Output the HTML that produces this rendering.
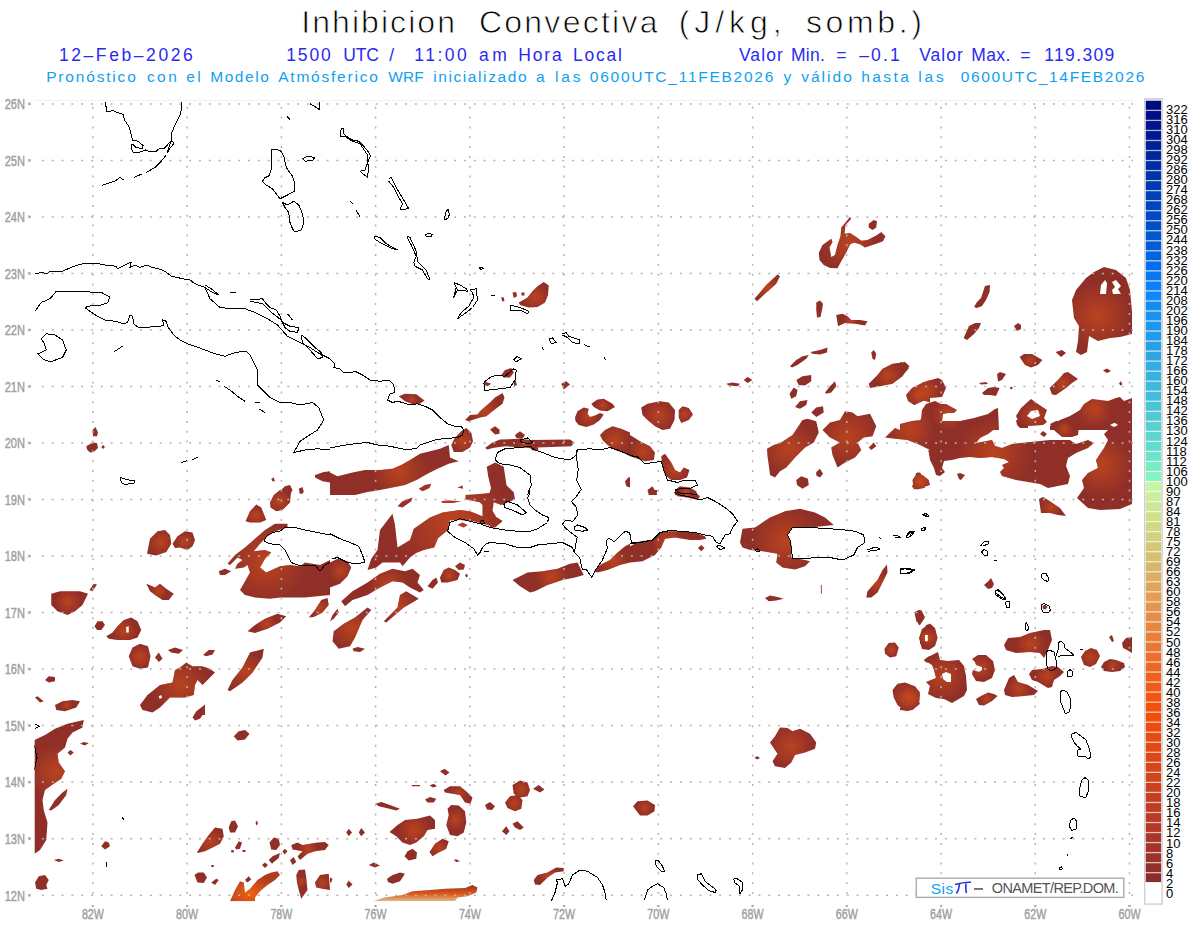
<!DOCTYPE html><html><head><meta charset="utf-8"><style>html,body{margin:0;padding:0;background:#fff;overflow:hidden}svg{display:block}</style></head><body><svg width="1200" height="927" viewBox="0 0 1200 927">
<rect width="1200" height="927" fill="#fff"/>
<g font-family="Liberation Sans, sans-serif">
<text x="301.2" y="32.9" font-size="32" textLength="153.8" lengthAdjust="spacing" fill="#000" stroke="#fff" stroke-width="0.8">Inhibicion</text>
<text x="478.9" y="32.9" font-size="32" textLength="178.6" lengthAdjust="spacing" fill="#000" stroke="#fff" stroke-width="0.8">Convectiva</text>
<text x="678.8" y="32.9" font-size="32" textLength="102.8" lengthAdjust="spacing" fill="#000" stroke="#fff" stroke-width="0.8">(J/kg,</text>
<text x="805.9" y="32.9" font-size="32" textLength="115.9" lengthAdjust="spacing" fill="#000" stroke="#fff" stroke-width="0.8">somb.)</text>
<text x="58.9" y="61" font-size="17.5" textLength="133.9" lengthAdjust="spacing" fill="#2a2af0" >12–Feb–2026</text>
<text x="286.2" y="61" font-size="17.5" textLength="44.6" lengthAdjust="spacing" fill="#2a2af0" >1500</text>
<text x="343.2" y="61" font-size="17.5" textLength="35.6" lengthAdjust="spacing" fill="#2a2af0" >UTC</text>
<text x="389.2" y="61" font-size="17.5" textLength="15.6" lengthAdjust="spacing" fill="#2a2af0" >/</text>
<text x="414.2" y="61" font-size="17.5" textLength="52.6" lengthAdjust="spacing" fill="#2a2af0" >11:00</text>
<text x="478.9" y="61" font-size="17.5" textLength="27.9" lengthAdjust="spacing" fill="#2a2af0" >am</text>
<text x="518.2" y="61" font-size="17.5" textLength="43.6" lengthAdjust="spacing" fill="#2a2af0" >Hora</text>
<text x="572.9" y="61" font-size="17.5" textLength="48.9" lengthAdjust="spacing" fill="#2a2af0" >Local</text>
<text x="738.9" y="61" font-size="17.5" textLength="43.9" lengthAdjust="spacing" fill="#2a2af0" >Valor</text>
<text x="790.9" y="61" font-size="17.5" textLength="33.9" lengthAdjust="spacing" fill="#2a2af0" >Min.</text>
<text x="836.2" y="61" font-size="17.5" textLength="13.2" lengthAdjust="spacing" fill="#2a2af0" >=</text>
<text x="859.2" y="61" font-size="17.5" textLength="40.6" lengthAdjust="spacing" fill="#2a2af0" >–0.1</text>
<text x="919.2" y="61" font-size="17.5" textLength="43.6" lengthAdjust="spacing" fill="#2a2af0" >Valor</text>
<text x="971.2" y="61" font-size="17.5" textLength="39.1" lengthAdjust="spacing" fill="#2a2af0" >Max.</text>
<text x="1020.2" y="61" font-size="17.5" textLength="14.6" lengthAdjust="spacing" fill="#2a2af0" >=</text>
<text x="1044.2" y="61" font-size="17.5" textLength="70.1" lengthAdjust="spacing" fill="#2a2af0" >119.309</text>
<text x="46.2" y="82" font-size="15.5" textLength="89.6" lengthAdjust="spacing" fill="#10a0f0" >Pronóstico</text>
<text x="146.9" y="82" font-size="15.5" textLength="29.9" lengthAdjust="spacing" fill="#10a0f0" >con</text>
<text x="186.2" y="82" font-size="15.5" textLength="14.6" lengthAdjust="spacing" fill="#10a0f0" >el</text>
<text x="210.2" y="82" font-size="15.5" textLength="58.6" lengthAdjust="spacing" fill="#10a0f0" >Modelo</text>
<text x="278.2" y="82" font-size="15.5" textLength="99.6" lengthAdjust="spacing" fill="#10a0f0" >Atmósferico</text>
<text x="388.2" y="82" font-size="15.5" textLength="35.4" lengthAdjust="spacing" fill="#10a0f0" >WRF</text>
<text x="433.2" y="82" font-size="15.5" textLength="93.3" lengthAdjust="spacing" fill="#10a0f0" >inicializado</text>
<text x="535.9" y="82" font-size="15.5" textLength="9.6" lengthAdjust="spacing" fill="#10a0f0" >a</text>
<text x="554.9" y="82" font-size="15.5" textLength="25.5" lengthAdjust="spacing" fill="#10a0f0" >las</text>
<text x="589.8" y="82" font-size="15.5" textLength="183.5" lengthAdjust="spacing" fill="#10a0f0" >0600UTC_11FEB2026</text>
<text x="783.6" y="82" font-size="15.5" textLength="8.2" lengthAdjust="spacing" fill="#10a0f0" >y</text>
<text x="801.2" y="82" font-size="15.5" textLength="50.6" lengthAdjust="spacing" fill="#10a0f0" >válido</text>
<text x="861.2" y="82" font-size="15.5" textLength="47.6" lengthAdjust="spacing" fill="#10a0f0" >hasta</text>
<text x="918.2" y="82" font-size="15.5" textLength="25.6" lengthAdjust="spacing" fill="#10a0f0" >las</text>
<text x="960.7" y="82" font-size="15.5" textLength="183.6" lengthAdjust="spacing" fill="#10a0f0" >0600UTC_14FEB2026</text>
</g>
<defs><radialGradient id="hs"><stop offset="0" stop-color="#c84a1c" stop-opacity="0.75"/><stop offset="1" stop-color="#c84a1c" stop-opacity="0"/></radialGradient><radialGradient id="bo" cx="0.4" cy="0.75" r="0.6"><stop offset="0" stop-color="#f06010"/><stop offset="1" stop-color="#b03c20"/></radialGradient><linearGradient id="bl" x1="0" y1="0" x2="0" y2="1"><stop offset="0" stop-color="#963226"/><stop offset="0.55" stop-color="#e05818"/><stop offset="1" stop-color="#d8c090"/></linearGradient></defs>
<defs><clipPath id="mc"><rect x="34.4" y="100.5" width="1098.8" height="800.7"/></clipPath></defs>
<path d="M34.4,100.5H1133.2" stroke="#f2f2f2" stroke-width="1"/>
<g clip-path="url(#mc)">
<defs><clipPath id="bc"><path d="M520.0,305.0 528.75,307.5 537.5,307.0 545.0,302.5 548.0,295.0 548.75,285.5 543.75,282.0 537.5,286.25 532.5,291.25 527.5,297.5 518.75,302.5ZM513.75,298.0 517.0,296.25 516.25,292.0 512.5,292.5ZM521.5,295.5 524.5,295.5 524.5,292.5 521.25,292.5ZM502.0,301.25 504.5,301.25 503.75,297.5 501.25,297.0ZM841.25,227.5 840.5,236.25 837.5,245.0 835.0,255.0 831.25,257.0 829.5,247.5 832.5,242.0 831.25,238.75 822.5,245.0 818.75,253.0 819.5,260.0 823.75,265.0 830.0,268.0 837.5,268.25 841.25,261.25 846.25,252.5 850.0,244.5 853.75,242.5 860.0,244.25 865.0,247.5 868.75,246.25 876.25,243.75 883.0,241.25 885.5,236.25 881.25,232.0 876.25,235.5 867.5,240.0 861.25,240.75 856.25,237.0 850.0,233.0 844.5,233.75 845.5,225.0 851.25,218.75 850.0,217.0ZM868.75,227.5 872.5,230.0 876.25,227.5 877.0,221.25 873.75,220.0 868.75,223.75ZM757.0,301.25 765.0,293.75 776.25,283.75 780.0,276.25 777.5,274.5 766.25,285.0 754.5,298.75ZM816.25,310.0 817.0,317.5 820.5,317.0 822.0,310.0 823.0,303.75 820.0,300.5 816.25,302.5ZM93.0,436.25 97.0,436.25 98.0,432.5 95.5,427.0 92.5,430.0ZM87.0,449.5 90.0,452.5 93.75,452.0 98.0,448.0 97.0,443.0 92.5,442.5 86.25,446.25ZM103.0,449.0 105.0,447.0 103.0,445.0 101.25,447.0ZM315.0,477.5 322.5,481.25 330.0,482.5 330.0,471.25 323.75,472.0 315.0,475.0ZM290.0,495.0 292.5,490.0 290.0,485.0 285.0,486.25 276.25,494.5ZM300.0,493.75 303.75,492.5 302.5,487.0 298.75,488.75ZM272.5,481.25 275.0,481.25 273.75,477.5 271.25,478.75ZM405.0,401.25 413.75,404.5 420.0,403.75 424.5,400.5 416.25,394.25 405.0,393.75 398.75,396.25ZM468.75,421.25 473.75,419.5 480.0,417.5 486.25,416.25 492.5,411.25 502.5,403.75 504.5,397.5 502.5,393.0 495.0,397.5 490.0,402.5 480.0,411.25 477.5,414.5 470.0,415.0 465.0,420.0ZM453.75,452.0 462.5,452.0 470.0,447.5 473.0,441.25 471.25,432.5 466.25,428.0 461.25,431.25 455.0,437.5 451.25,445.0ZM330.0,495.0 355.0,495.0 367.5,492.0 380.0,490.0 392.5,487.5 405.0,485.0 417.5,479.5 427.5,473.75 437.5,468.75 448.75,463.75 458.75,461.25 450.0,457.5 448.75,445.0 440.0,448.75 430.0,451.25 420.0,453.75 410.0,460.0 401.25,465.0 392.5,468.75 380.0,470.0 365.0,470.0 352.5,472.5 337.5,476.25 330.0,472.5ZM422.5,491.25 429.5,488.0 431.25,483.75 425.0,485.0 418.75,488.75ZM463.0,488.75 462.5,485.5 457.5,487.5ZM495.0,434.5 499.5,433.75 499.5,429.5 495.0,426.25 490.0,429.5ZM516.25,438.0 522.5,438.75 525.0,435.0 520.0,431.25 515.0,435.0ZM487.5,449.5 492.5,448.0 505.0,446.25 530.0,448.0 532.5,450.5 538.75,450.0 537.5,447.5 571.25,446.25 574.5,442.5 570.0,439.5 530.0,440.0 520.0,438.75 500.0,439.5 492.5,442.5 485.0,448.0ZM487.5,386.25 491.25,383.75 486.25,382.0 482.5,383.75ZM503.75,377.5 510.0,377.5 513.75,372.5 511.25,368.0 505.0,370.0 501.25,375.0ZM514.5,386.25 517.0,385.0 515.5,380.0 513.0,381.25ZM563.75,389.5 570.0,384.5 566.25,381.25 561.25,383.75ZM593.75,407.0 600.0,410.5 607.5,411.25 615.0,407.0 612.5,403.75 603.75,398.75 597.5,399.5 591.25,403.75ZM575.5,421.25 578.75,425.0 586.25,427.0 593.75,424.5 600.0,420.0 603.75,414.5 600.0,413.0 595.0,415.5 590.0,417.0 587.5,413.75 588.75,408.75 583.75,407.5 577.5,411.25 575.0,417.5ZM602.5,440.0 607.5,445.0 615.0,450.0 622.5,452.5 630.0,456.25 630.0,432.5 621.25,428.75 612.5,426.25 605.0,430.0 600.0,435.0ZM626.25,486.25 630.0,487.5 630.0,477.5 628.75,477.0 625.0,481.25ZM838.0,326.25 845.0,323.0 855.0,323.75 865.0,325.5 867.5,321.25 860.0,320.0 851.25,320.0 847.5,316.25 842.5,313.75 836.25,315.0ZM792.0,367.5 797.5,365.0 806.25,358.75 808.75,355.0 802.5,356.25 796.25,360.0 790.0,366.25ZM812.5,353.75 820.0,354.5 827.0,352.5 827.5,347.5 820.0,350.0 810.5,352.0ZM872.5,358.75 875.0,360.0 876.25,353.75 873.75,350.0 871.25,352.5ZM870.0,388.0 880.0,386.25 892.5,383.75 902.5,376.25 909.5,366.25 905.0,362.0 892.5,363.75 882.5,368.75 877.5,375.0 868.75,383.75ZM908.75,401.25 915.0,405.0 922.5,400.0 930.0,402.5 930.0,380.0 922.5,382.5 912.5,390.0 906.25,396.25ZM728.75,385.5 737.5,386.25 740.0,383.75 732.5,382.5 726.25,383.75ZM747.5,383.0 752.5,380.0 747.5,377.0 743.75,380.0ZM798.75,385.0 805.0,385.5 811.25,381.25 811.25,375.0 802.5,376.25 796.25,380.0ZM791.25,398.75 796.25,396.25 797.5,390.0 793.75,387.5 789.5,393.75ZM826.25,393.75 831.25,392.5 836.25,386.25 835.0,381.25 830.0,386.25 825.0,392.5ZM800.0,408.75 806.25,405.0 807.5,400.0 800.0,401.25 795.0,407.0ZM816.25,417.0 823.75,412.5 823.0,406.25 816.25,407.5 811.25,412.5ZM642.5,415.0 647.5,420.0 655.0,426.25 662.5,430.0 670.0,428.75 674.5,420.0 675.0,410.0 668.75,402.5 660.0,401.25 647.5,403.75 641.25,407.5ZM678.75,417.5 681.25,423.0 688.75,420.0 693.0,414.5 688.75,408.0 682.5,406.25 678.75,410.0ZM767.5,456.25 768.75,465.0 770.0,475.0 775.0,477.5 780.0,471.25 786.25,467.5 795.0,457.5 805.0,447.5 813.75,442.5 818.75,432.5 816.25,421.25 807.5,418.75 802.5,420.0 792.5,435.0 781.25,442.5 773.75,445.0 767.0,448.75ZM830.0,437.5 840.0,442.5 831.25,447.5 832.5,455.0 837.5,467.5 845.0,462.5 855.0,457.5 861.25,450.0 857.5,442.5 863.75,437.5 872.5,436.25 876.25,426.25 870.0,413.75 857.5,416.25 852.5,412.5 845.0,411.25 840.0,420.0 830.0,422.5 822.5,430.0ZM871.25,450.0 876.25,446.25 873.75,442.5 868.75,447.5ZM816.25,475.5 820.0,477.5 823.0,473.75 820.0,468.75 816.25,472.0ZM797.0,485.0 802.5,488.75 808.75,485.0 808.0,478.75 801.25,476.25 796.25,480.0ZM895.0,438.75 907.5,440.0 920.0,445.0 930.0,450.0 930.0,403.75 925.0,406.25 920.0,421.25 912.5,427.0 905.0,425.0 900.0,430.0 895.0,428.0 885.0,437.5ZM913.75,489.5 922.5,487.5 930.0,485.0 928.75,480.0 922.5,475.0 917.5,472.5 912.5,480.0ZM630.0,456.25 637.5,458.75 645.0,461.25 653.75,460.0 655.0,452.5 650.0,446.25 640.0,441.25 630.0,435.0ZM662.5,467.5 665.0,475.0 671.25,480.0 680.0,480.0 687.0,477.5 689.5,470.0 683.75,467.5 680.0,472.5 675.0,470.0 671.25,462.5 665.0,453.75 661.25,456.25ZM648.75,495.0 657.5,495.0 652.5,486.25 647.5,490.0ZM675.0,495.0 697.5,495.0 696.25,491.25 690.0,487.5 680.0,486.25 675.0,490.0ZM1074.0,318.0 1079.0,326.0 1078.0,341.0 1076.0,352.0 1081.0,355.0 1087.0,352.0 1088.0,344.0 1089.0,336.0 1098.0,341.0 1110.0,338.0 1120.0,337.0 1132.0,334.0 1132.0,312.0 1130.0,290.0 1126.0,278.0 1116.0,270.0 1104.0,267.0 1094.0,272.0 1086.0,278.0 1076.0,290.0 1072.0,300.0ZM977.0,308.0 982.0,306.0 986.0,300.0 989.6,292.0 990.0,285.0 985.0,286.0 981.0,298.0 977.0,302.0 974.0,307.0ZM967.0,340.0 974.0,334.0 979.0,328.0 981.0,323.0 975.0,323.0 969.0,326.0 963.6,338.0ZM1017.0,331.0 1021.0,329.0 1021.0,325.0 1018.0,323.0 1014.0,326.0ZM1025.0,365.0 1031.0,367.6 1038.0,365.0 1042.4,360.0 1032.0,354.0 1024.0,354.0 1019.6,357.0ZM1061.0,357.0 1066.0,353.0 1062.0,350.0 1055.6,352.0ZM900.0,378.0 904.0,374.0 909.0,368.0 905.0,363.0 900.0,362.0ZM908.0,401.0 914.0,405.0 930.0,398.0 942.0,397.0 946.0,388.0 942.0,380.0 938.0,378.0 924.0,382.0 912.0,388.0 906.0,395.0ZM998.0,381.6 1002.0,380.0 1006.0,374.0 1000.0,372.0 997.0,374.0ZM981.0,384.4 988.0,384.0 986.0,382.0 979.0,383.0ZM984.0,395.0 990.0,395.0 996.0,396.0 999.6,388.0 994.0,387.0 988.0,388.0 982.0,393.0ZM1011.2,389.6 1013.0,388.0 1011.2,386.4 1009.6,388.0ZM1052.0,394.4 1056.0,395.0 1066.0,388.0 1072.0,383.0 1078.0,379.0 1068.0,372.0 1064.0,373.0 1058.0,380.0 1049.6,388.0ZM1107.0,373.0 1111.0,371.0 1107.0,368.4 1103.0,370.4ZM1120.4,385.6 1122.4,384.4 1121.0,381.0 1119.0,383.6ZM900.0,430.0 999.0,430.0 998.0,408.0 995.0,409.0 988.0,414.0 974.0,418.0 960.0,421.0 942.0,421.0 943.0,414.0 948.0,413.0 954.0,413.0 957.0,410.0 946.0,404.0 941.0,404.0 935.0,401.0 926.0,404.0 922.0,410.0 921.0,420.0 912.0,421.0 900.0,424.0ZM1020.0,425.0 1028.0,426.0 1043.0,425.0 1047.0,422.0 1044.0,418.0 1047.0,410.0 1038.0,404.0 1031.0,399.0 1021.0,408.0 1016.0,416.0ZM1050.0,430.0 1132.0,430.0 1132.0,398.0 1124.0,401.0 1120.0,397.0 1116.0,398.0 1108.0,401.0 1100.0,400.0 1092.0,399.0 1084.0,404.0 1080.0,410.0 1070.0,416.0 1060.0,420.0 1050.0,426.0ZM900.0,436.0 908.0,440.0 920.0,442.0 928.0,448.0 930.0,460.0 934.0,468.0 936.0,475.0 940.0,476.0 945.0,472.0 942.0,468.0 944.0,461.0 952.0,460.0 960.0,458.0 970.0,457.0 980.0,458.0 992.0,457.0 1004.0,459.0 1009.0,462.0 1002.0,465.0 1004.0,468.0 1000.0,472.0 1002.0,476.0 1016.0,480.0 1028.0,482.0 1040.0,484.0 1048.0,488.0 1068.0,484.0 1070.0,476.0 1066.0,466.0 1068.0,458.0 1076.0,453.0 1088.0,448.0 1094.0,443.0 1088.0,440.0 1076.0,444.0 1070.0,440.0 1050.0,440.0 1030.0,442.0 1012.0,444.0 1002.0,448.0 995.0,446.0 992.0,440.0 976.0,443.0 980.0,438.0 988.0,434.0 996.0,428.0 998.0,421.0 940.0,421.0 920.0,423.0 910.0,422.0 900.0,426.0ZM917.0,489.6 924.0,488.0 929.6,484.0 925.0,480.0 920.0,472.4 916.0,473.0 915.0,478.0 912.0,487.0ZM959.0,479.0 961.0,480.0 965.0,475.0 960.0,473.0 957.0,474.0ZM1017.0,425.0 1020.0,428.0 1028.0,428.0 1028.0,420.0 1016.0,420.0ZM1044.0,437.0 1047.0,434.0 1043.0,431.0 1040.0,434.0ZM1052.0,428.0 1056.0,432.0 1062.0,437.0 1072.0,437.0 1078.0,435.0 1079.0,426.0 1074.0,421.0 1056.0,421.0 1050.0,424.0ZM1106.0,425.0 1110.0,428.0 1104.0,434.0 1108.0,440.0 1104.0,448.0 1096.0,460.0 1098.0,468.0 1088.0,473.0 1082.0,480.0 1084.0,488.0 1077.0,498.0 1088.0,508.0 1100.0,510.0 1120.0,509.0 1132.0,504.0 1132.0,420.0 1094.0,420.0ZM1041.0,513.0 1050.0,513.0 1058.0,515.0 1066.0,516.0 1060.0,508.0 1054.0,504.0 1048.0,500.0 1043.0,497.0 1039.0,499.0ZM988.0,589.0 992.0,588.0 994.0,584.0 991.0,578.0 988.0,581.6 984.0,585.0ZM270.5,507.5 276.25,511.25 282.5,510.0 290.0,502.5 291.25,490.0 280.0,490.0 273.75,495.0 270.0,502.5ZM302.5,493.75 303.75,490.0 301.25,490.0 298.75,492.5ZM250.0,522.5 260.0,522.5 266.25,520.0 261.25,507.5 256.25,504.5 250.0,511.25 245.5,521.25ZM230.0,565.0 237.5,557.5 242.5,560.0 237.5,563.75 235.0,568.75 243.75,567.5 247.5,565.0 250.0,572.5 245.0,581.25 240.0,590.0 245.0,595.0 255.0,597.5 270.0,598.75 280.0,597.5 305.0,597.5 330.0,595.0 330.0,560.0 320.0,565.0 305.0,562.5 300.0,566.25 290.0,565.0 280.0,566.25 266.25,572.5 260.0,567.5 265.0,558.75 271.25,552.5 265.0,550.0 253.75,551.25 260.0,543.75 267.5,536.25 275.0,531.25 287.5,527.5 287.5,523.75 275.0,523.75 265.0,530.0 255.0,538.75 245.0,547.5 235.0,555.0 227.5,563.75ZM220.0,575.0 225.0,575.0 231.25,571.25 225.0,568.75 218.75,571.25ZM156.25,555.5 166.25,552.0 171.25,543.75 170.0,535.0 165.0,530.0 157.5,531.25 150.0,538.75 147.0,553.75ZM175.0,548.0 180.0,547.5 187.5,550.0 192.5,546.25 195.0,540.0 192.5,532.5 185.0,531.25 177.5,536.25 172.5,543.75ZM51.25,605.0 57.5,611.25 67.5,615.0 75.0,611.25 82.5,605.0 88.0,593.75 80.0,591.25 60.0,591.25 51.25,593.75ZM92.5,591.25 97.0,584.5 93.75,583.75 89.5,590.0ZM150.0,591.25 155.0,595.0 162.5,600.0 168.75,600.0 173.75,593.75 166.25,588.75 160.0,583.75 155.0,587.5 149.5,585.0 146.25,583.75ZM97.0,630.0 101.25,630.0 105.0,625.0 102.5,621.25 97.5,621.25 94.5,626.25ZM108.75,638.75 117.5,640.0 130.0,640.0 137.5,637.5 141.25,630.0 137.5,621.25 131.25,617.5 123.75,620.0 117.5,626.25 112.5,632.5 106.25,636.25ZM132.5,666.25 140.0,668.75 148.0,667.5 150.5,656.25 148.0,646.25 140.0,643.75 132.5,647.5 128.75,656.25ZM158.75,662.0 162.5,658.75 158.75,652.5 155.0,657.5ZM171.25,652.5 178.75,653.75 183.0,650.0 175.0,647.5 168.0,650.0ZM206.25,656.25 212.5,654.5 215.0,650.0 208.75,650.0 203.0,655.0ZM142.5,710.0 152.5,712.5 160.0,707.5 170.0,697.5 185.0,697.5 193.75,695.0 195.0,685.0 197.5,680.0 202.5,685.0 207.5,680.0 215.0,672.5 210.0,668.75 202.5,666.25 192.5,666.25 186.25,662.5 180.0,667.5 175.0,670.0 172.5,682.5 160.0,685.0 147.5,695.0 140.0,705.0ZM230.0,691.25 242.5,682.5 252.5,672.5 262.5,657.5 263.75,648.75 250.0,652.5 242.5,667.5 232.5,680.0 227.5,690.0ZM255.0,633.0 267.5,628.75 280.0,622.5 286.25,616.25 277.5,613.75 265.0,618.75 255.0,625.0 247.5,631.25ZM313.75,617.0 322.5,612.5 328.75,605.0 327.5,598.0 321.25,600.0 315.0,610.0 308.75,617.5ZM48.75,682.5 55.0,681.25 55.0,677.0 48.75,676.25 45.0,680.0ZM40.0,702.5 43.75,701.25 37.5,696.25 35.0,697.5ZM56.25,710.0 65.0,711.25 76.25,707.5 80.0,701.25 72.5,700.0 62.5,701.25 55.0,705.0ZM205.0,715.0 205.0,704.5 200.0,708.75 195.0,715.0ZM340.0,495.0 355.0,493.75 361.25,490.0 335.0,490.0ZM402.5,507.5 411.25,501.25 412.5,497.5 402.5,501.25 397.5,506.25ZM442.5,503.0 452.5,503.0 461.25,501.25 447.5,500.5 441.25,501.25ZM376.25,567.5 382.5,562.5 392.5,562.5 400.0,562.5 402.5,566.25 410.0,557.5 416.25,553.0 423.75,550.0 434.25,547.5 438.0,538.25 447.25,530.5 449.75,520.25 460.0,520.0 473.75,521.25 486.75,524.75 495.25,527.5 502.25,520.5 496.75,517.75 492.5,510.75 493.75,502.25 501.0,505.0 508.0,502.25 515.0,499.25 513.75,492.25 506.5,485.25 503.75,466.75 495.25,462.5 486.75,466.75 488.25,476.75 491.0,488.0 489.5,493.0 476.75,494.25 465.5,495.0 465.5,499.25 479.75,502.25 482.5,505.0 482.5,516.25 470.0,511.25 460.0,510.0 442.5,512.5 430.0,517.5 413.75,528.75 410.0,540.0 397.5,547.5 395.0,525.0 392.5,513.75 380.0,530.0 377.5,550.0 371.25,558.75 367.5,570.0ZM490.0,527.5 495.0,527.5 502.5,521.25 497.5,517.5 488.75,522.5ZM463.75,527.5 467.5,525.0 462.5,522.5 457.5,525.0ZM330.0,587.5 340.0,583.75 347.5,576.25 351.25,567.5 347.5,561.25 337.5,558.75 330.0,562.5ZM345.0,606.25 352.5,600.0 367.5,595.0 380.0,587.5 392.5,581.25 402.5,582.5 410.0,587.5 420.0,592.5 423.75,590.0 417.5,582.5 420.0,575.0 412.5,568.75 405.0,571.25 392.5,568.75 380.0,573.75 367.5,582.5 352.5,591.25 341.25,601.25ZM432.5,588.75 438.0,582.5 436.25,577.5 432.5,580.0 427.5,586.25ZM441.25,582.5 447.5,582.5 457.5,580.0 460.0,573.75 455.0,570.0 448.75,567.5 443.75,570.0 440.0,577.5ZM458.75,570.0 463.75,569.5 465.0,565.0 460.0,562.5 455.0,566.25ZM466.25,577.5 468.0,576.25 467.0,573.75 465.0,575.0ZM386.25,622.5 395.0,615.0 403.75,607.5 412.5,602.5 418.75,598.75 406.25,591.25 400.0,595.0 397.5,607.5 392.5,612.5 383.75,621.25ZM333.75,618.75 338.75,612.5 337.5,608.75 332.5,615.0 330.0,621.25ZM338.75,648.75 350.0,646.25 355.0,637.5 362.5,620.0 371.25,610.0 367.5,607.5 355.0,617.5 343.75,623.75 333.75,631.25 332.5,641.25ZM353.75,651.25 360.0,652.0 365.0,648.75 357.5,647.0 352.5,648.75ZM520.0,586.25 530.0,592.5 535.0,591.25 547.5,585.0 562.5,580.0 575.0,577.5 583.75,575.0 580.0,567.5 577.5,562.5 570.0,563.75 557.5,568.75 542.5,571.25 527.5,572.5 512.5,580.0ZM597.5,572.5 607.5,570.0 620.0,565.0 630.0,562.5 630.0,543.75 625.0,546.25 617.5,552.5 610.0,560.0 600.0,565.0 593.75,571.25ZM652.5,494.5 656.25,495.0 657.5,490.0 648.75,490.0ZM677.5,496.25 687.5,497.5 697.5,500.0 700.0,496.25 692.5,490.0 677.5,490.0 673.75,492.5ZM630.0,562.5 642.5,561.25 655.0,555.0 661.25,547.5 665.0,538.75 675.0,537.5 690.0,540.0 700.0,540.0 706.25,538.75 705.0,536.25 695.0,532.5 680.0,531.25 670.0,531.25 660.0,532.5 652.5,540.0 640.0,541.25 630.0,546.25ZM701.25,551.25 704.5,548.0 701.25,545.0 698.0,548.0ZM742.5,547.5 750.0,550.0 762.5,551.25 777.5,553.75 776.25,562.5 782.5,567.5 795.0,569.5 805.0,566.25 810.0,561.25 805.0,560.0 791.25,557.5 791.25,543.75 787.5,535.0 792.5,528.0 810.0,527.5 833.75,525.0 825.0,517.5 815.0,512.5 800.0,508.75 785.0,511.25 770.0,517.5 755.0,527.5 742.5,528.75 740.0,542.5ZM768.75,601.25 776.25,600.5 783.75,598.75 777.5,597.0 770.0,595.5 765.0,598.0ZM820.88,593.75 821.75,593.75 821.75,585.0 820.88,585.0ZM871.25,597.5 877.5,592.5 882.5,582.5 887.5,572.5 887.0,564.5 882.5,570.0 877.5,580.0 867.5,591.25 866.25,597.5ZM916.25,621.25 920.0,625.0 925.0,617.5 921.25,610.0 915.0,612.5ZM920.0,643.75 925.0,648.75 930.0,650.0 930.0,623.75 926.25,625.0 920.0,635.0ZM885.0,653.75 890.0,657.5 896.25,656.25 898.75,647.5 895.0,642.5 888.75,643.0 884.5,648.75ZM926.25,662.5 930.0,662.5 930.0,656.25 928.75,656.25 923.75,660.0ZM893.75,697.5 897.5,705.0 905.0,711.25 912.5,710.0 920.0,703.75 917.5,700.0 920.0,692.5 915.0,686.25 905.0,682.5 897.5,683.75 892.5,690.0ZM916.0,620.0 919.0,625.0 924.0,618.0 923.0,613.0 919.0,610.0 914.4,612.0ZM922.0,649.0 929.0,650.0 935.0,646.0 937.6,638.0 935.0,628.0 930.0,623.6 922.0,629.0 919.0,638.0ZM932.0,665.0 934.0,670.0 936.0,678.0 926.0,682.0 930.0,686.0 928.0,694.0 936.0,698.0 944.0,699.0 952.0,703.0 964.0,696.0 967.0,690.0 966.0,676.0 964.0,666.0 959.0,660.0 948.0,661.0 940.0,660.0 938.0,652.0 930.0,656.0 924.0,660.0ZM900.0,710.0 908.0,711.0 912.0,708.0 919.0,705.0 920.0,694.0 917.0,690.0 908.0,685.0 900.0,684.0ZM975.0,662.0 976.0,665.0 982.0,667.0 982.0,670.0 979.0,672.0 973.0,670.0 972.0,674.0 976.0,681.0 984.0,682.0 992.0,678.0 995.0,670.0 993.0,661.0 986.0,655.0 978.0,655.0 972.0,659.0ZM979.0,705.0 984.0,705.6 992.0,701.0 997.6,696.0 994.0,694.0 988.0,692.4 981.0,696.0 976.0,699.0ZM1005.0,695.0 1012.0,697.0 1024.0,696.0 1034.0,695.0 1038.0,691.0 1028.0,685.0 1018.0,682.0 1014.0,675.0 1009.0,678.0 1004.0,690.0ZM1006.0,650.0 1016.0,653.0 1030.0,652.0 1040.0,653.0 1044.0,658.0 1048.0,650.0 1052.0,640.0 1050.0,630.0 1044.0,630.0 1030.0,633.0 1020.0,637.0 1008.0,638.0 1004.0,645.0ZM1032.0,680.0 1038.0,682.0 1048.0,688.0 1052.0,687.0 1054.0,680.0 1060.0,676.0 1064.0,672.0 1058.0,667.0 1052.0,666.0 1042.0,669.0 1032.0,670.0 1029.0,674.0ZM1084.0,665.0 1090.0,667.0 1096.0,664.0 1100.0,656.0 1097.0,650.0 1091.0,648.0 1085.0,651.0 1081.0,657.0ZM1104.0,671.0 1112.0,672.0 1120.0,671.0 1125.0,667.0 1124.0,663.0 1116.0,660.0 1110.0,659.0 1104.0,662.0 1101.0,667.0ZM1112.0,642.0 1114.0,641.0 1112.0,635.0 1109.0,637.0ZM1123.0,648.0 1127.0,650.0 1132.0,653.0 1132.0,637.0 1126.0,638.0 1122.0,643.0ZM1043.0,609.0 1045.6,609.6 1047.6,607.0 1045.0,604.4 1042.4,606.0ZM195.0,720.5 200.0,718.75 205.0,711.25 204.5,705.0 196.25,711.25 192.5,717.5ZM34.5,853.75 40.0,850.0 46.25,840.0 47.5,822.5 43.75,810.0 42.5,800.0 45.0,790.0 53.75,783.75 61.25,778.75 65.0,771.25 58.75,762.5 57.5,753.75 65.0,747.5 67.5,738.75 72.5,732.5 82.5,727.5 83.75,720.0 67.5,723.75 55.0,728.75 45.0,735.0 34.5,740.0ZM51.25,810.5 58.75,805.0 66.25,795.0 67.5,788.75 62.5,792.5 55.0,800.0 48.75,810.0ZM85.0,745.5 88.75,743.0 83.75,742.0 80.0,743.75ZM70.5,755.5 73.75,752.5 70.5,750.0 67.5,752.5ZM237.5,740.5 245.0,739.5 249.5,733.75 245.0,730.0 238.75,731.25 233.75,736.25ZM105.0,849.5 110.0,846.25 108.75,842.5 105.0,841.25 101.25,846.25ZM58.75,862.0 63.75,860.5 58.75,858.75 53.75,860.0ZM36.25,888.75 41.25,890.0 47.5,888.75 46.25,885.0 48.75,880.0 45.0,875.0 38.75,876.25 35.0,882.5ZM197.5,853.0 205.0,851.25 212.5,847.5 220.0,843.75 223.75,836.25 222.5,828.75 215.0,827.5 208.75,835.0 202.5,843.75 197.0,852.5ZM230.0,832.5 235.0,832.5 238.0,826.25 235.0,820.5 231.25,821.25 228.75,827.5ZM256.5,825.5 258.0,823.75 257.0,820.5 255.5,822.5ZM236.25,849.5 240.0,848.75 242.0,842.5 238.75,841.25 235.0,847.5ZM231.25,852.5 233.75,852.5 233.75,850.0 231.25,850.0ZM242.5,852.0 245.5,852.0 245.5,850.0 242.5,850.0ZM211.25,867.0 213.75,867.0 213.75,865.0 211.25,865.0ZM197.5,882.5 203.75,883.0 207.0,877.5 203.75,872.5 198.0,872.5 194.5,875.0ZM215.0,885.0 218.75,880.0 216.25,878.75 211.25,882.5ZM271.25,849.5 276.25,850.0 280.0,845.0 278.75,838.75 273.75,837.5 269.5,842.5ZM284.5,854.5 287.5,851.25 285.0,848.75 282.5,851.25ZM272.0,863.75 273.75,862.0 278.75,858.0 280.0,853.0 272.5,856.25 268.75,860.0ZM265.0,868.0 268.0,865.0 265.0,862.5 262.0,865.0ZM292.5,849.5 302.5,851.25 297.5,856.25 300.0,860.0 307.5,853.75 315.0,851.25 325.0,850.0 328.75,845.0 325.0,842.0 317.5,842.5 310.0,843.75 302.5,845.0 297.5,842.5 291.25,845.0ZM292.5,865.0 296.25,862.0 293.75,857.0 290.0,860.0ZM247.5,882.5 251.25,879.5 248.75,876.25 245.0,880.0ZM297.0,882.5 298.75,890.0 301.25,898.75 307.5,890.0 306.25,877.5 305.0,869.5 298.75,870.0 296.25,875.0ZM316.25,887.5 322.5,888.75 330.0,890.0 328.75,873.75 320.0,875.0 315.0,882.5ZM445.5,775.5 449.5,772.5 444.5,768.75 440.0,771.25ZM412.5,786.25 420.0,786.25 420.0,785.0 411.25,785.0ZM433.0,787.5 437.0,786.25 433.75,783.75 429.5,785.5ZM445.0,792.5 452.5,793.75 460.0,795.0 465.0,802.5 470.5,803.75 472.5,797.5 467.0,792.0 460.0,786.25 450.0,786.25 443.75,790.0ZM427.5,802.5 433.75,802.5 436.25,798.75 430.0,797.0 425.0,799.5ZM378.75,806.25 386.25,808.0 396.25,810.5 400.0,808.75 390.0,805.0 381.25,802.0 375.5,803.75ZM448.75,815.0 446.25,825.0 450.0,835.0 457.5,836.25 463.75,832.5 466.25,822.5 465.0,811.25 458.75,805.5 451.25,805.0 447.5,808.75ZM487.0,809.5 492.0,810.0 495.0,806.25 490.0,802.0 485.0,805.0ZM513.75,793.75 520.0,797.5 527.5,796.25 530.0,790.0 527.5,782.5 520.0,780.5 512.5,785.0ZM540.0,792.5 544.5,789.5 538.75,785.0 533.0,788.75ZM507.5,808.0 515.0,811.25 521.25,808.75 522.5,800.0 517.5,795.0 510.0,796.25 505.0,802.5ZM506.25,835.0 509.5,831.25 506.25,826.25 502.0,831.25ZM515.0,827.5 520.0,830.0 523.75,827.5 517.5,821.25 512.5,823.75ZM396.25,836.25 402.5,842.5 410.0,845.0 416.25,842.5 423.75,836.25 427.5,830.0 435.0,828.75 435.0,820.0 430.0,815.5 417.5,818.75 405.0,820.0 397.5,825.0 389.5,832.0ZM348.75,836.25 352.0,832.5 348.75,828.75 346.25,832.5ZM361.25,836.25 365.0,832.5 361.25,828.0 358.75,832.5ZM432.5,856.25 438.75,852.5 446.25,848.75 448.75,841.25 442.5,838.75 435.0,843.75 429.5,852.0ZM408.75,860.5 416.25,858.75 417.0,852.5 412.5,848.75 407.5,851.25 404.5,856.25ZM456.25,862.0 460.0,861.25 456.25,859.25 453.75,860.0ZM375.0,867.5 380.0,865.5 373.75,862.5 368.75,865.0ZM388.0,882.0 392.5,883.75 400.0,881.25 405.0,873.75 400.0,872.5 392.5,875.0 387.0,878.75ZM330.0,882.5 331.25,882.5 332.5,878.75 330.0,877.5ZM348.75,888.0 352.5,884.5 348.75,880.5 346.25,884.5ZM535.0,884.5 540.0,885.0 547.5,877.5 555.0,872.5 563.75,871.25 563.75,868.0 556.25,867.5 547.5,872.5 537.5,875.0 533.75,880.0ZM777.5,753.75 772.5,761.25 775.0,766.25 785.0,768.0 791.25,762.5 795.0,755.0 805.0,752.5 815.0,748.75 816.25,742.5 810.0,733.75 800.0,728.75 792.5,731.25 787.5,728.0 780.0,727.5 775.0,736.25 770.0,742.5ZM757.0,759.5 760.0,758.0 757.5,756.25 754.5,757.5ZM640.0,815.5 647.5,815.5 654.5,811.25 655.0,805.0 647.5,800.5 637.5,801.25 633.0,806.25Z"/></clipPath></defs>
<path d="M520.0,305.0 528.75,307.5 537.5,307.0 545.0,302.5 548.0,295.0 548.75,285.5 543.75,282.0 537.5,286.25 532.5,291.25 527.5,297.5 518.75,302.5ZM513.75,298.0 517.0,296.25 516.25,292.0 512.5,292.5ZM521.5,295.5 524.5,295.5 524.5,292.5 521.25,292.5ZM502.0,301.25 504.5,301.25 503.75,297.5 501.25,297.0ZM841.25,227.5 840.5,236.25 837.5,245.0 835.0,255.0 831.25,257.0 829.5,247.5 832.5,242.0 831.25,238.75 822.5,245.0 818.75,253.0 819.5,260.0 823.75,265.0 830.0,268.0 837.5,268.25 841.25,261.25 846.25,252.5 850.0,244.5 853.75,242.5 860.0,244.25 865.0,247.5 868.75,246.25 876.25,243.75 883.0,241.25 885.5,236.25 881.25,232.0 876.25,235.5 867.5,240.0 861.25,240.75 856.25,237.0 850.0,233.0 844.5,233.75 845.5,225.0 851.25,218.75 850.0,217.0ZM868.75,227.5 872.5,230.0 876.25,227.5 877.0,221.25 873.75,220.0 868.75,223.75ZM757.0,301.25 765.0,293.75 776.25,283.75 780.0,276.25 777.5,274.5 766.25,285.0 754.5,298.75ZM816.25,310.0 817.0,317.5 820.5,317.0 822.0,310.0 823.0,303.75 820.0,300.5 816.25,302.5ZM93.0,436.25 97.0,436.25 98.0,432.5 95.5,427.0 92.5,430.0ZM87.0,449.5 90.0,452.5 93.75,452.0 98.0,448.0 97.0,443.0 92.5,442.5 86.25,446.25ZM103.0,449.0 105.0,447.0 103.0,445.0 101.25,447.0ZM315.0,477.5 322.5,481.25 330.0,482.5 330.0,471.25 323.75,472.0 315.0,475.0ZM290.0,495.0 292.5,490.0 290.0,485.0 285.0,486.25 276.25,494.5ZM300.0,493.75 303.75,492.5 302.5,487.0 298.75,488.75ZM272.5,481.25 275.0,481.25 273.75,477.5 271.25,478.75ZM405.0,401.25 413.75,404.5 420.0,403.75 424.5,400.5 416.25,394.25 405.0,393.75 398.75,396.25ZM468.75,421.25 473.75,419.5 480.0,417.5 486.25,416.25 492.5,411.25 502.5,403.75 504.5,397.5 502.5,393.0 495.0,397.5 490.0,402.5 480.0,411.25 477.5,414.5 470.0,415.0 465.0,420.0ZM453.75,452.0 462.5,452.0 470.0,447.5 473.0,441.25 471.25,432.5 466.25,428.0 461.25,431.25 455.0,437.5 451.25,445.0ZM330.0,495.0 355.0,495.0 367.5,492.0 380.0,490.0 392.5,487.5 405.0,485.0 417.5,479.5 427.5,473.75 437.5,468.75 448.75,463.75 458.75,461.25 450.0,457.5 448.75,445.0 440.0,448.75 430.0,451.25 420.0,453.75 410.0,460.0 401.25,465.0 392.5,468.75 380.0,470.0 365.0,470.0 352.5,472.5 337.5,476.25 330.0,472.5ZM422.5,491.25 429.5,488.0 431.25,483.75 425.0,485.0 418.75,488.75ZM463.0,488.75 462.5,485.5 457.5,487.5ZM495.0,434.5 499.5,433.75 499.5,429.5 495.0,426.25 490.0,429.5ZM516.25,438.0 522.5,438.75 525.0,435.0 520.0,431.25 515.0,435.0ZM487.5,449.5 492.5,448.0 505.0,446.25 530.0,448.0 532.5,450.5 538.75,450.0 537.5,447.5 571.25,446.25 574.5,442.5 570.0,439.5 530.0,440.0 520.0,438.75 500.0,439.5 492.5,442.5 485.0,448.0ZM487.5,386.25 491.25,383.75 486.25,382.0 482.5,383.75ZM503.75,377.5 510.0,377.5 513.75,372.5 511.25,368.0 505.0,370.0 501.25,375.0ZM514.5,386.25 517.0,385.0 515.5,380.0 513.0,381.25ZM563.75,389.5 570.0,384.5 566.25,381.25 561.25,383.75ZM593.75,407.0 600.0,410.5 607.5,411.25 615.0,407.0 612.5,403.75 603.75,398.75 597.5,399.5 591.25,403.75ZM575.5,421.25 578.75,425.0 586.25,427.0 593.75,424.5 600.0,420.0 603.75,414.5 600.0,413.0 595.0,415.5 590.0,417.0 587.5,413.75 588.75,408.75 583.75,407.5 577.5,411.25 575.0,417.5ZM602.5,440.0 607.5,445.0 615.0,450.0 622.5,452.5 630.0,456.25 630.0,432.5 621.25,428.75 612.5,426.25 605.0,430.0 600.0,435.0ZM626.25,486.25 630.0,487.5 630.0,477.5 628.75,477.0 625.0,481.25ZM838.0,326.25 845.0,323.0 855.0,323.75 865.0,325.5 867.5,321.25 860.0,320.0 851.25,320.0 847.5,316.25 842.5,313.75 836.25,315.0ZM792.0,367.5 797.5,365.0 806.25,358.75 808.75,355.0 802.5,356.25 796.25,360.0 790.0,366.25ZM812.5,353.75 820.0,354.5 827.0,352.5 827.5,347.5 820.0,350.0 810.5,352.0ZM872.5,358.75 875.0,360.0 876.25,353.75 873.75,350.0 871.25,352.5ZM870.0,388.0 880.0,386.25 892.5,383.75 902.5,376.25 909.5,366.25 905.0,362.0 892.5,363.75 882.5,368.75 877.5,375.0 868.75,383.75ZM908.75,401.25 915.0,405.0 922.5,400.0 930.0,402.5 930.0,380.0 922.5,382.5 912.5,390.0 906.25,396.25ZM728.75,385.5 737.5,386.25 740.0,383.75 732.5,382.5 726.25,383.75ZM747.5,383.0 752.5,380.0 747.5,377.0 743.75,380.0ZM798.75,385.0 805.0,385.5 811.25,381.25 811.25,375.0 802.5,376.25 796.25,380.0ZM791.25,398.75 796.25,396.25 797.5,390.0 793.75,387.5 789.5,393.75ZM826.25,393.75 831.25,392.5 836.25,386.25 835.0,381.25 830.0,386.25 825.0,392.5ZM800.0,408.75 806.25,405.0 807.5,400.0 800.0,401.25 795.0,407.0ZM816.25,417.0 823.75,412.5 823.0,406.25 816.25,407.5 811.25,412.5ZM642.5,415.0 647.5,420.0 655.0,426.25 662.5,430.0 670.0,428.75 674.5,420.0 675.0,410.0 668.75,402.5 660.0,401.25 647.5,403.75 641.25,407.5ZM678.75,417.5 681.25,423.0 688.75,420.0 693.0,414.5 688.75,408.0 682.5,406.25 678.75,410.0ZM767.5,456.25 768.75,465.0 770.0,475.0 775.0,477.5 780.0,471.25 786.25,467.5 795.0,457.5 805.0,447.5 813.75,442.5 818.75,432.5 816.25,421.25 807.5,418.75 802.5,420.0 792.5,435.0 781.25,442.5 773.75,445.0 767.0,448.75ZM830.0,437.5 840.0,442.5 831.25,447.5 832.5,455.0 837.5,467.5 845.0,462.5 855.0,457.5 861.25,450.0 857.5,442.5 863.75,437.5 872.5,436.25 876.25,426.25 870.0,413.75 857.5,416.25 852.5,412.5 845.0,411.25 840.0,420.0 830.0,422.5 822.5,430.0ZM871.25,450.0 876.25,446.25 873.75,442.5 868.75,447.5ZM816.25,475.5 820.0,477.5 823.0,473.75 820.0,468.75 816.25,472.0ZM797.0,485.0 802.5,488.75 808.75,485.0 808.0,478.75 801.25,476.25 796.25,480.0ZM895.0,438.75 907.5,440.0 920.0,445.0 930.0,450.0 930.0,403.75 925.0,406.25 920.0,421.25 912.5,427.0 905.0,425.0 900.0,430.0 895.0,428.0 885.0,437.5ZM913.75,489.5 922.5,487.5 930.0,485.0 928.75,480.0 922.5,475.0 917.5,472.5 912.5,480.0ZM630.0,456.25 637.5,458.75 645.0,461.25 653.75,460.0 655.0,452.5 650.0,446.25 640.0,441.25 630.0,435.0ZM662.5,467.5 665.0,475.0 671.25,480.0 680.0,480.0 687.0,477.5 689.5,470.0 683.75,467.5 680.0,472.5 675.0,470.0 671.25,462.5 665.0,453.75 661.25,456.25ZM648.75,495.0 657.5,495.0 652.5,486.25 647.5,490.0ZM675.0,495.0 697.5,495.0 696.25,491.25 690.0,487.5 680.0,486.25 675.0,490.0ZM1074.0,318.0 1079.0,326.0 1078.0,341.0 1076.0,352.0 1081.0,355.0 1087.0,352.0 1088.0,344.0 1089.0,336.0 1098.0,341.0 1110.0,338.0 1120.0,337.0 1132.0,334.0 1132.0,312.0 1130.0,290.0 1126.0,278.0 1116.0,270.0 1104.0,267.0 1094.0,272.0 1086.0,278.0 1076.0,290.0 1072.0,300.0ZM977.0,308.0 982.0,306.0 986.0,300.0 989.6,292.0 990.0,285.0 985.0,286.0 981.0,298.0 977.0,302.0 974.0,307.0ZM967.0,340.0 974.0,334.0 979.0,328.0 981.0,323.0 975.0,323.0 969.0,326.0 963.6,338.0ZM1017.0,331.0 1021.0,329.0 1021.0,325.0 1018.0,323.0 1014.0,326.0ZM1025.0,365.0 1031.0,367.6 1038.0,365.0 1042.4,360.0 1032.0,354.0 1024.0,354.0 1019.6,357.0ZM1061.0,357.0 1066.0,353.0 1062.0,350.0 1055.6,352.0ZM900.0,378.0 904.0,374.0 909.0,368.0 905.0,363.0 900.0,362.0ZM908.0,401.0 914.0,405.0 930.0,398.0 942.0,397.0 946.0,388.0 942.0,380.0 938.0,378.0 924.0,382.0 912.0,388.0 906.0,395.0ZM998.0,381.6 1002.0,380.0 1006.0,374.0 1000.0,372.0 997.0,374.0ZM981.0,384.4 988.0,384.0 986.0,382.0 979.0,383.0ZM984.0,395.0 990.0,395.0 996.0,396.0 999.6,388.0 994.0,387.0 988.0,388.0 982.0,393.0ZM1011.2,389.6 1013.0,388.0 1011.2,386.4 1009.6,388.0ZM1052.0,394.4 1056.0,395.0 1066.0,388.0 1072.0,383.0 1078.0,379.0 1068.0,372.0 1064.0,373.0 1058.0,380.0 1049.6,388.0ZM1107.0,373.0 1111.0,371.0 1107.0,368.4 1103.0,370.4ZM1120.4,385.6 1122.4,384.4 1121.0,381.0 1119.0,383.6ZM900.0,430.0 999.0,430.0 998.0,408.0 995.0,409.0 988.0,414.0 974.0,418.0 960.0,421.0 942.0,421.0 943.0,414.0 948.0,413.0 954.0,413.0 957.0,410.0 946.0,404.0 941.0,404.0 935.0,401.0 926.0,404.0 922.0,410.0 921.0,420.0 912.0,421.0 900.0,424.0ZM1020.0,425.0 1028.0,426.0 1043.0,425.0 1047.0,422.0 1044.0,418.0 1047.0,410.0 1038.0,404.0 1031.0,399.0 1021.0,408.0 1016.0,416.0ZM1050.0,430.0 1132.0,430.0 1132.0,398.0 1124.0,401.0 1120.0,397.0 1116.0,398.0 1108.0,401.0 1100.0,400.0 1092.0,399.0 1084.0,404.0 1080.0,410.0 1070.0,416.0 1060.0,420.0 1050.0,426.0ZM900.0,436.0 908.0,440.0 920.0,442.0 928.0,448.0 930.0,460.0 934.0,468.0 936.0,475.0 940.0,476.0 945.0,472.0 942.0,468.0 944.0,461.0 952.0,460.0 960.0,458.0 970.0,457.0 980.0,458.0 992.0,457.0 1004.0,459.0 1009.0,462.0 1002.0,465.0 1004.0,468.0 1000.0,472.0 1002.0,476.0 1016.0,480.0 1028.0,482.0 1040.0,484.0 1048.0,488.0 1068.0,484.0 1070.0,476.0 1066.0,466.0 1068.0,458.0 1076.0,453.0 1088.0,448.0 1094.0,443.0 1088.0,440.0 1076.0,444.0 1070.0,440.0 1050.0,440.0 1030.0,442.0 1012.0,444.0 1002.0,448.0 995.0,446.0 992.0,440.0 976.0,443.0 980.0,438.0 988.0,434.0 996.0,428.0 998.0,421.0 940.0,421.0 920.0,423.0 910.0,422.0 900.0,426.0ZM917.0,489.6 924.0,488.0 929.6,484.0 925.0,480.0 920.0,472.4 916.0,473.0 915.0,478.0 912.0,487.0ZM959.0,479.0 961.0,480.0 965.0,475.0 960.0,473.0 957.0,474.0ZM1017.0,425.0 1020.0,428.0 1028.0,428.0 1028.0,420.0 1016.0,420.0ZM1044.0,437.0 1047.0,434.0 1043.0,431.0 1040.0,434.0ZM1052.0,428.0 1056.0,432.0 1062.0,437.0 1072.0,437.0 1078.0,435.0 1079.0,426.0 1074.0,421.0 1056.0,421.0 1050.0,424.0ZM1106.0,425.0 1110.0,428.0 1104.0,434.0 1108.0,440.0 1104.0,448.0 1096.0,460.0 1098.0,468.0 1088.0,473.0 1082.0,480.0 1084.0,488.0 1077.0,498.0 1088.0,508.0 1100.0,510.0 1120.0,509.0 1132.0,504.0 1132.0,420.0 1094.0,420.0ZM1041.0,513.0 1050.0,513.0 1058.0,515.0 1066.0,516.0 1060.0,508.0 1054.0,504.0 1048.0,500.0 1043.0,497.0 1039.0,499.0ZM988.0,589.0 992.0,588.0 994.0,584.0 991.0,578.0 988.0,581.6 984.0,585.0ZM270.5,507.5 276.25,511.25 282.5,510.0 290.0,502.5 291.25,490.0 280.0,490.0 273.75,495.0 270.0,502.5ZM302.5,493.75 303.75,490.0 301.25,490.0 298.75,492.5ZM250.0,522.5 260.0,522.5 266.25,520.0 261.25,507.5 256.25,504.5 250.0,511.25 245.5,521.25ZM230.0,565.0 237.5,557.5 242.5,560.0 237.5,563.75 235.0,568.75 243.75,567.5 247.5,565.0 250.0,572.5 245.0,581.25 240.0,590.0 245.0,595.0 255.0,597.5 270.0,598.75 280.0,597.5 305.0,597.5 330.0,595.0 330.0,560.0 320.0,565.0 305.0,562.5 300.0,566.25 290.0,565.0 280.0,566.25 266.25,572.5 260.0,567.5 265.0,558.75 271.25,552.5 265.0,550.0 253.75,551.25 260.0,543.75 267.5,536.25 275.0,531.25 287.5,527.5 287.5,523.75 275.0,523.75 265.0,530.0 255.0,538.75 245.0,547.5 235.0,555.0 227.5,563.75ZM220.0,575.0 225.0,575.0 231.25,571.25 225.0,568.75 218.75,571.25ZM156.25,555.5 166.25,552.0 171.25,543.75 170.0,535.0 165.0,530.0 157.5,531.25 150.0,538.75 147.0,553.75ZM175.0,548.0 180.0,547.5 187.5,550.0 192.5,546.25 195.0,540.0 192.5,532.5 185.0,531.25 177.5,536.25 172.5,543.75ZM51.25,605.0 57.5,611.25 67.5,615.0 75.0,611.25 82.5,605.0 88.0,593.75 80.0,591.25 60.0,591.25 51.25,593.75ZM92.5,591.25 97.0,584.5 93.75,583.75 89.5,590.0ZM150.0,591.25 155.0,595.0 162.5,600.0 168.75,600.0 173.75,593.75 166.25,588.75 160.0,583.75 155.0,587.5 149.5,585.0 146.25,583.75ZM97.0,630.0 101.25,630.0 105.0,625.0 102.5,621.25 97.5,621.25 94.5,626.25ZM108.75,638.75 117.5,640.0 130.0,640.0 137.5,637.5 141.25,630.0 137.5,621.25 131.25,617.5 123.75,620.0 117.5,626.25 112.5,632.5 106.25,636.25ZM132.5,666.25 140.0,668.75 148.0,667.5 150.5,656.25 148.0,646.25 140.0,643.75 132.5,647.5 128.75,656.25ZM158.75,662.0 162.5,658.75 158.75,652.5 155.0,657.5ZM171.25,652.5 178.75,653.75 183.0,650.0 175.0,647.5 168.0,650.0ZM206.25,656.25 212.5,654.5 215.0,650.0 208.75,650.0 203.0,655.0ZM142.5,710.0 152.5,712.5 160.0,707.5 170.0,697.5 185.0,697.5 193.75,695.0 195.0,685.0 197.5,680.0 202.5,685.0 207.5,680.0 215.0,672.5 210.0,668.75 202.5,666.25 192.5,666.25 186.25,662.5 180.0,667.5 175.0,670.0 172.5,682.5 160.0,685.0 147.5,695.0 140.0,705.0ZM230.0,691.25 242.5,682.5 252.5,672.5 262.5,657.5 263.75,648.75 250.0,652.5 242.5,667.5 232.5,680.0 227.5,690.0ZM255.0,633.0 267.5,628.75 280.0,622.5 286.25,616.25 277.5,613.75 265.0,618.75 255.0,625.0 247.5,631.25ZM313.75,617.0 322.5,612.5 328.75,605.0 327.5,598.0 321.25,600.0 315.0,610.0 308.75,617.5ZM48.75,682.5 55.0,681.25 55.0,677.0 48.75,676.25 45.0,680.0ZM40.0,702.5 43.75,701.25 37.5,696.25 35.0,697.5ZM56.25,710.0 65.0,711.25 76.25,707.5 80.0,701.25 72.5,700.0 62.5,701.25 55.0,705.0ZM205.0,715.0 205.0,704.5 200.0,708.75 195.0,715.0ZM340.0,495.0 355.0,493.75 361.25,490.0 335.0,490.0ZM402.5,507.5 411.25,501.25 412.5,497.5 402.5,501.25 397.5,506.25ZM442.5,503.0 452.5,503.0 461.25,501.25 447.5,500.5 441.25,501.25ZM376.25,567.5 382.5,562.5 392.5,562.5 400.0,562.5 402.5,566.25 410.0,557.5 416.25,553.0 423.75,550.0 434.25,547.5 438.0,538.25 447.25,530.5 449.75,520.25 460.0,520.0 473.75,521.25 486.75,524.75 495.25,527.5 502.25,520.5 496.75,517.75 492.5,510.75 493.75,502.25 501.0,505.0 508.0,502.25 515.0,499.25 513.75,492.25 506.5,485.25 503.75,466.75 495.25,462.5 486.75,466.75 488.25,476.75 491.0,488.0 489.5,493.0 476.75,494.25 465.5,495.0 465.5,499.25 479.75,502.25 482.5,505.0 482.5,516.25 470.0,511.25 460.0,510.0 442.5,512.5 430.0,517.5 413.75,528.75 410.0,540.0 397.5,547.5 395.0,525.0 392.5,513.75 380.0,530.0 377.5,550.0 371.25,558.75 367.5,570.0ZM490.0,527.5 495.0,527.5 502.5,521.25 497.5,517.5 488.75,522.5ZM463.75,527.5 467.5,525.0 462.5,522.5 457.5,525.0ZM330.0,587.5 340.0,583.75 347.5,576.25 351.25,567.5 347.5,561.25 337.5,558.75 330.0,562.5ZM345.0,606.25 352.5,600.0 367.5,595.0 380.0,587.5 392.5,581.25 402.5,582.5 410.0,587.5 420.0,592.5 423.75,590.0 417.5,582.5 420.0,575.0 412.5,568.75 405.0,571.25 392.5,568.75 380.0,573.75 367.5,582.5 352.5,591.25 341.25,601.25ZM432.5,588.75 438.0,582.5 436.25,577.5 432.5,580.0 427.5,586.25ZM441.25,582.5 447.5,582.5 457.5,580.0 460.0,573.75 455.0,570.0 448.75,567.5 443.75,570.0 440.0,577.5ZM458.75,570.0 463.75,569.5 465.0,565.0 460.0,562.5 455.0,566.25ZM466.25,577.5 468.0,576.25 467.0,573.75 465.0,575.0ZM386.25,622.5 395.0,615.0 403.75,607.5 412.5,602.5 418.75,598.75 406.25,591.25 400.0,595.0 397.5,607.5 392.5,612.5 383.75,621.25ZM333.75,618.75 338.75,612.5 337.5,608.75 332.5,615.0 330.0,621.25ZM338.75,648.75 350.0,646.25 355.0,637.5 362.5,620.0 371.25,610.0 367.5,607.5 355.0,617.5 343.75,623.75 333.75,631.25 332.5,641.25ZM353.75,651.25 360.0,652.0 365.0,648.75 357.5,647.0 352.5,648.75ZM520.0,586.25 530.0,592.5 535.0,591.25 547.5,585.0 562.5,580.0 575.0,577.5 583.75,575.0 580.0,567.5 577.5,562.5 570.0,563.75 557.5,568.75 542.5,571.25 527.5,572.5 512.5,580.0ZM597.5,572.5 607.5,570.0 620.0,565.0 630.0,562.5 630.0,543.75 625.0,546.25 617.5,552.5 610.0,560.0 600.0,565.0 593.75,571.25ZM652.5,494.5 656.25,495.0 657.5,490.0 648.75,490.0ZM677.5,496.25 687.5,497.5 697.5,500.0 700.0,496.25 692.5,490.0 677.5,490.0 673.75,492.5ZM630.0,562.5 642.5,561.25 655.0,555.0 661.25,547.5 665.0,538.75 675.0,537.5 690.0,540.0 700.0,540.0 706.25,538.75 705.0,536.25 695.0,532.5 680.0,531.25 670.0,531.25 660.0,532.5 652.5,540.0 640.0,541.25 630.0,546.25ZM701.25,551.25 704.5,548.0 701.25,545.0 698.0,548.0ZM742.5,547.5 750.0,550.0 762.5,551.25 777.5,553.75 776.25,562.5 782.5,567.5 795.0,569.5 805.0,566.25 810.0,561.25 805.0,560.0 791.25,557.5 791.25,543.75 787.5,535.0 792.5,528.0 810.0,527.5 833.75,525.0 825.0,517.5 815.0,512.5 800.0,508.75 785.0,511.25 770.0,517.5 755.0,527.5 742.5,528.75 740.0,542.5ZM768.75,601.25 776.25,600.5 783.75,598.75 777.5,597.0 770.0,595.5 765.0,598.0ZM820.88,593.75 821.75,593.75 821.75,585.0 820.88,585.0ZM871.25,597.5 877.5,592.5 882.5,582.5 887.5,572.5 887.0,564.5 882.5,570.0 877.5,580.0 867.5,591.25 866.25,597.5ZM916.25,621.25 920.0,625.0 925.0,617.5 921.25,610.0 915.0,612.5ZM920.0,643.75 925.0,648.75 930.0,650.0 930.0,623.75 926.25,625.0 920.0,635.0ZM885.0,653.75 890.0,657.5 896.25,656.25 898.75,647.5 895.0,642.5 888.75,643.0 884.5,648.75ZM926.25,662.5 930.0,662.5 930.0,656.25 928.75,656.25 923.75,660.0ZM893.75,697.5 897.5,705.0 905.0,711.25 912.5,710.0 920.0,703.75 917.5,700.0 920.0,692.5 915.0,686.25 905.0,682.5 897.5,683.75 892.5,690.0ZM916.0,620.0 919.0,625.0 924.0,618.0 923.0,613.0 919.0,610.0 914.4,612.0ZM922.0,649.0 929.0,650.0 935.0,646.0 937.6,638.0 935.0,628.0 930.0,623.6 922.0,629.0 919.0,638.0ZM932.0,665.0 934.0,670.0 936.0,678.0 926.0,682.0 930.0,686.0 928.0,694.0 936.0,698.0 944.0,699.0 952.0,703.0 964.0,696.0 967.0,690.0 966.0,676.0 964.0,666.0 959.0,660.0 948.0,661.0 940.0,660.0 938.0,652.0 930.0,656.0 924.0,660.0ZM900.0,710.0 908.0,711.0 912.0,708.0 919.0,705.0 920.0,694.0 917.0,690.0 908.0,685.0 900.0,684.0ZM975.0,662.0 976.0,665.0 982.0,667.0 982.0,670.0 979.0,672.0 973.0,670.0 972.0,674.0 976.0,681.0 984.0,682.0 992.0,678.0 995.0,670.0 993.0,661.0 986.0,655.0 978.0,655.0 972.0,659.0ZM979.0,705.0 984.0,705.6 992.0,701.0 997.6,696.0 994.0,694.0 988.0,692.4 981.0,696.0 976.0,699.0ZM1005.0,695.0 1012.0,697.0 1024.0,696.0 1034.0,695.0 1038.0,691.0 1028.0,685.0 1018.0,682.0 1014.0,675.0 1009.0,678.0 1004.0,690.0ZM1006.0,650.0 1016.0,653.0 1030.0,652.0 1040.0,653.0 1044.0,658.0 1048.0,650.0 1052.0,640.0 1050.0,630.0 1044.0,630.0 1030.0,633.0 1020.0,637.0 1008.0,638.0 1004.0,645.0ZM1032.0,680.0 1038.0,682.0 1048.0,688.0 1052.0,687.0 1054.0,680.0 1060.0,676.0 1064.0,672.0 1058.0,667.0 1052.0,666.0 1042.0,669.0 1032.0,670.0 1029.0,674.0ZM1084.0,665.0 1090.0,667.0 1096.0,664.0 1100.0,656.0 1097.0,650.0 1091.0,648.0 1085.0,651.0 1081.0,657.0ZM1104.0,671.0 1112.0,672.0 1120.0,671.0 1125.0,667.0 1124.0,663.0 1116.0,660.0 1110.0,659.0 1104.0,662.0 1101.0,667.0ZM1112.0,642.0 1114.0,641.0 1112.0,635.0 1109.0,637.0ZM1123.0,648.0 1127.0,650.0 1132.0,653.0 1132.0,637.0 1126.0,638.0 1122.0,643.0ZM1043.0,609.0 1045.6,609.6 1047.6,607.0 1045.0,604.4 1042.4,606.0ZM195.0,720.5 200.0,718.75 205.0,711.25 204.5,705.0 196.25,711.25 192.5,717.5ZM34.5,853.75 40.0,850.0 46.25,840.0 47.5,822.5 43.75,810.0 42.5,800.0 45.0,790.0 53.75,783.75 61.25,778.75 65.0,771.25 58.75,762.5 57.5,753.75 65.0,747.5 67.5,738.75 72.5,732.5 82.5,727.5 83.75,720.0 67.5,723.75 55.0,728.75 45.0,735.0 34.5,740.0ZM51.25,810.5 58.75,805.0 66.25,795.0 67.5,788.75 62.5,792.5 55.0,800.0 48.75,810.0ZM85.0,745.5 88.75,743.0 83.75,742.0 80.0,743.75ZM70.5,755.5 73.75,752.5 70.5,750.0 67.5,752.5ZM237.5,740.5 245.0,739.5 249.5,733.75 245.0,730.0 238.75,731.25 233.75,736.25ZM105.0,849.5 110.0,846.25 108.75,842.5 105.0,841.25 101.25,846.25ZM58.75,862.0 63.75,860.5 58.75,858.75 53.75,860.0ZM36.25,888.75 41.25,890.0 47.5,888.75 46.25,885.0 48.75,880.0 45.0,875.0 38.75,876.25 35.0,882.5ZM197.5,853.0 205.0,851.25 212.5,847.5 220.0,843.75 223.75,836.25 222.5,828.75 215.0,827.5 208.75,835.0 202.5,843.75 197.0,852.5ZM230.0,832.5 235.0,832.5 238.0,826.25 235.0,820.5 231.25,821.25 228.75,827.5ZM256.5,825.5 258.0,823.75 257.0,820.5 255.5,822.5ZM236.25,849.5 240.0,848.75 242.0,842.5 238.75,841.25 235.0,847.5ZM231.25,852.5 233.75,852.5 233.75,850.0 231.25,850.0ZM242.5,852.0 245.5,852.0 245.5,850.0 242.5,850.0ZM211.25,867.0 213.75,867.0 213.75,865.0 211.25,865.0ZM197.5,882.5 203.75,883.0 207.0,877.5 203.75,872.5 198.0,872.5 194.5,875.0ZM215.0,885.0 218.75,880.0 216.25,878.75 211.25,882.5ZM271.25,849.5 276.25,850.0 280.0,845.0 278.75,838.75 273.75,837.5 269.5,842.5ZM284.5,854.5 287.5,851.25 285.0,848.75 282.5,851.25ZM272.0,863.75 273.75,862.0 278.75,858.0 280.0,853.0 272.5,856.25 268.75,860.0ZM265.0,868.0 268.0,865.0 265.0,862.5 262.0,865.0ZM292.5,849.5 302.5,851.25 297.5,856.25 300.0,860.0 307.5,853.75 315.0,851.25 325.0,850.0 328.75,845.0 325.0,842.0 317.5,842.5 310.0,843.75 302.5,845.0 297.5,842.5 291.25,845.0ZM292.5,865.0 296.25,862.0 293.75,857.0 290.0,860.0ZM247.5,882.5 251.25,879.5 248.75,876.25 245.0,880.0ZM297.0,882.5 298.75,890.0 301.25,898.75 307.5,890.0 306.25,877.5 305.0,869.5 298.75,870.0 296.25,875.0ZM316.25,887.5 322.5,888.75 330.0,890.0 328.75,873.75 320.0,875.0 315.0,882.5ZM445.5,775.5 449.5,772.5 444.5,768.75 440.0,771.25ZM412.5,786.25 420.0,786.25 420.0,785.0 411.25,785.0ZM433.0,787.5 437.0,786.25 433.75,783.75 429.5,785.5ZM445.0,792.5 452.5,793.75 460.0,795.0 465.0,802.5 470.5,803.75 472.5,797.5 467.0,792.0 460.0,786.25 450.0,786.25 443.75,790.0ZM427.5,802.5 433.75,802.5 436.25,798.75 430.0,797.0 425.0,799.5ZM378.75,806.25 386.25,808.0 396.25,810.5 400.0,808.75 390.0,805.0 381.25,802.0 375.5,803.75ZM448.75,815.0 446.25,825.0 450.0,835.0 457.5,836.25 463.75,832.5 466.25,822.5 465.0,811.25 458.75,805.5 451.25,805.0 447.5,808.75ZM487.0,809.5 492.0,810.0 495.0,806.25 490.0,802.0 485.0,805.0ZM513.75,793.75 520.0,797.5 527.5,796.25 530.0,790.0 527.5,782.5 520.0,780.5 512.5,785.0ZM540.0,792.5 544.5,789.5 538.75,785.0 533.0,788.75ZM507.5,808.0 515.0,811.25 521.25,808.75 522.5,800.0 517.5,795.0 510.0,796.25 505.0,802.5ZM506.25,835.0 509.5,831.25 506.25,826.25 502.0,831.25ZM515.0,827.5 520.0,830.0 523.75,827.5 517.5,821.25 512.5,823.75ZM396.25,836.25 402.5,842.5 410.0,845.0 416.25,842.5 423.75,836.25 427.5,830.0 435.0,828.75 435.0,820.0 430.0,815.5 417.5,818.75 405.0,820.0 397.5,825.0 389.5,832.0ZM348.75,836.25 352.0,832.5 348.75,828.75 346.25,832.5ZM361.25,836.25 365.0,832.5 361.25,828.0 358.75,832.5ZM432.5,856.25 438.75,852.5 446.25,848.75 448.75,841.25 442.5,838.75 435.0,843.75 429.5,852.0ZM408.75,860.5 416.25,858.75 417.0,852.5 412.5,848.75 407.5,851.25 404.5,856.25ZM456.25,862.0 460.0,861.25 456.25,859.25 453.75,860.0ZM375.0,867.5 380.0,865.5 373.75,862.5 368.75,865.0ZM388.0,882.0 392.5,883.75 400.0,881.25 405.0,873.75 400.0,872.5 392.5,875.0 387.0,878.75ZM330.0,882.5 331.25,882.5 332.5,878.75 330.0,877.5ZM348.75,888.0 352.5,884.5 348.75,880.5 346.25,884.5ZM535.0,884.5 540.0,885.0 547.5,877.5 555.0,872.5 563.75,871.25 563.75,868.0 556.25,867.5 547.5,872.5 537.5,875.0 533.75,880.0ZM777.5,753.75 772.5,761.25 775.0,766.25 785.0,768.0 791.25,762.5 795.0,755.0 805.0,752.5 815.0,748.75 816.25,742.5 810.0,733.75 800.0,728.75 792.5,731.25 787.5,728.0 780.0,727.5 775.0,736.25 770.0,742.5ZM757.0,759.5 760.0,758.0 757.5,756.25 754.5,757.5ZM640.0,815.5 647.5,815.5 654.5,811.25 655.0,805.0 647.5,800.5 637.5,801.25 633.0,806.25Z" fill="#902f28"/>
<g clip-path="url(#bc)">
<circle cx="535.3" cy="296.5" r="14.0" fill="url(#hs)"/>
<circle cx="848.4" cy="243.6" r="28.2" fill="url(#hs)"/>
<circle cx="768.1" cy="287.6" r="14.0" fill="url(#hs)"/>
<circle cx="411.9" cy="399.2" r="5.9" fill="url(#hs)"/>
<circle cx="484.9" cy="410.1" r="15.5" fill="url(#hs)"/>
<circle cx="462.7" cy="440.8" r="12.0" fill="url(#hs)"/>
<circle cx="399.1" cy="470.9" r="27.5" fill="url(#hs)"/>
<circle cx="524.5" cy="445.1" r="6.5" fill="url(#hs)"/>
<circle cx="602.7" cy="405.2" r="6.9" fill="url(#hs)"/>
<circle cx="588.2" cy="416.9" r="10.7" fill="url(#hs)"/>
<circle cx="614.6" cy="439.6" r="16.5" fill="url(#hs)"/>
<circle cx="850.8" cy="320.5" r="6.9" fill="url(#hs)"/>
<circle cx="888.1" cy="375.4" r="14.3" fill="url(#hs)"/>
<circle cx="918.4" cy="394.7" r="13.1" fill="url(#hs)"/>
<circle cx="658.6" cy="415.0" r="15.8" fill="url(#hs)"/>
<circle cx="684.5" cy="414.2" r="7.8" fill="url(#hs)"/>
<circle cx="789.5" cy="448.5" r="28.5" fill="url(#hs)"/>
<circle cx="848.4" cy="436.2" r="29.6" fill="url(#hs)"/>
<circle cx="910.4" cy="429.4" r="24.8" fill="url(#hs)"/>
<circle cx="921.1" cy="481.4" r="9.4" fill="url(#hs)"/>
<circle cx="642.7" cy="451.4" r="13.8" fill="url(#hs)"/>
<circle cx="674.3" cy="469.4" r="14.4" fill="url(#hs)"/>
<circle cx="685.6" cy="490.8" r="4.8" fill="url(#hs)"/>
<circle cx="1097.5" cy="315.8" r="33.0" fill="url(#hs)"/>
<circle cx="1030.3" cy="360.4" r="7.5" fill="url(#hs)"/>
<circle cx="926.2" cy="391.2" r="14.9" fill="url(#hs)"/>
<circle cx="1062.6" cy="383.6" r="12.7" fill="url(#hs)"/>
<circle cx="948.0" cy="414.4" r="16.0" fill="url(#hs)"/>
<circle cx="1033.5" cy="415.3" r="14.9" fill="url(#hs)"/>
<circle cx="1094.1" cy="409.3" r="18.2" fill="url(#hs)"/>
<circle cx="993.9" cy="453.7" r="36.9" fill="url(#hs)"/>
<circle cx="919.8" cy="481.5" r="9.5" fill="url(#hs)"/>
<circle cx="1064.3" cy="429.0" r="8.8" fill="url(#hs)"/>
<circle cx="1101.4" cy="465.5" r="30.3" fill="url(#hs)"/>
<circle cx="1051.0" cy="507.2" r="10.5" fill="url(#hs)"/>
<circle cx="279.3" cy="501.1" r="11.7" fill="url(#hs)"/>
<circle cx="255.6" cy="515.6" r="9.9" fill="url(#hs)"/>
<circle cx="266.2" cy="562.3" r="41.2" fill="url(#hs)"/>
<circle cx="160.4" cy="542.5" r="13.3" fill="url(#hs)"/>
<circle cx="184.2" cy="541.7" r="10.3" fill="url(#hs)"/>
<circle cx="68.1" cy="601.9" r="13.1" fill="url(#hs)"/>
<circle cx="158.7" cy="590.9" r="8.9" fill="url(#hs)"/>
<circle cx="124.0" cy="630.9" r="12.4" fill="url(#hs)"/>
<circle cx="140.0" cy="656.6" r="12.0" fill="url(#hs)"/>
<circle cx="180.4" cy="685.3" r="27.5" fill="url(#hs)"/>
<circle cx="244.9" cy="671.4" r="19.9" fill="url(#hs)"/>
<circle cx="266.7" cy="623.7" r="10.6" fill="url(#hs)"/>
<circle cx="319.6" cy="608.6" r="10.7" fill="url(#hs)"/>
<circle cx="66.8" cy="705.2" r="6.2" fill="url(#hs)"/>
<circle cx="450.7" cy="520.6" r="59.1" fill="url(#hs)"/>
<circle cx="340.5" cy="571.1" r="11.7" fill="url(#hs)"/>
<circle cx="387.9" cy="585.4" r="20.6" fill="url(#hs)"/>
<circle cx="449.2" cy="575.5" r="8.2" fill="url(#hs)"/>
<circle cx="399.6" cy="607.4" r="17.2" fill="url(#hs)"/>
<circle cx="351.0" cy="628.4" r="21.3" fill="url(#hs)"/>
<circle cx="551.5" cy="576.7" r="16.5" fill="url(#hs)"/>
<circle cx="613.1" cy="560.9" r="15.8" fill="url(#hs)"/>
<circle cx="686.6" cy="494.6" r="5.5" fill="url(#hs)"/>
<circle cx="668.1" cy="541.9" r="17.2" fill="url(#hs)"/>
<circle cx="785.2" cy="540.5" r="33.4" fill="url(#hs)"/>
<circle cx="877.7" cy="583.1" r="11.7" fill="url(#hs)"/>
<circle cx="925.2" cy="637.7" r="5.5" fill="url(#hs)"/>
<circle cx="891.2" cy="649.9" r="7.8" fill="url(#hs)"/>
<circle cx="906.9" cy="696.6" r="15.1" fill="url(#hs)"/>
<circle cx="928.7" cy="637.7" r="10.2" fill="url(#hs)"/>
<circle cx="943.1" cy="676.4" r="23.7" fill="url(#hs)"/>
<circle cx="910.5" cy="698.4" r="11.0" fill="url(#hs)"/>
<circle cx="981.0" cy="668.1" r="12.7" fill="url(#hs)"/>
<circle cx="986.5" cy="698.6" r="7.3" fill="url(#hs)"/>
<circle cx="1018.6" cy="688.4" r="12.1" fill="url(#hs)"/>
<circle cx="1030.2" cy="643.8" r="15.4" fill="url(#hs)"/>
<circle cx="1046.8" cy="675.9" r="12.1" fill="url(#hs)"/>
<circle cx="1090.5" cy="657.2" r="10.5" fill="url(#hs)"/>
<circle cx="1112.9" cy="665.8" r="7.2" fill="url(#hs)"/>
<circle cx="55.7" cy="771.9" r="27.1" fill="url(#hs)"/>
<circle cx="210.4" cy="841.9" r="14.0" fill="url(#hs)"/>
<circle cx="308.0" cy="848.4" r="9.9" fill="url(#hs)"/>
<circle cx="301.3" cy="881.7" r="6.2" fill="url(#hs)"/>
<circle cx="322.1" cy="882.9" r="8.2" fill="url(#hs)"/>
<circle cx="458.6" cy="794.0" r="9.6" fill="url(#hs)"/>
<circle cx="455.5" cy="819.7" r="11.0" fill="url(#hs)"/>
<circle cx="521.6" cy="789.4" r="9.4" fill="url(#hs)"/>
<circle cx="514.1" cy="803.1" r="8.9" fill="url(#hs)"/>
<circle cx="414.3" cy="830.2" r="16.2" fill="url(#hs)"/>
<circle cx="439.0" cy="847.6" r="9.6" fill="url(#hs)"/>
<circle cx="548.0" cy="875.4" r="9.6" fill="url(#hs)"/>
<circle cx="790.5" cy="746.2" r="22.3" fill="url(#hs)"/>
<circle cx="645.0" cy="807.9" r="8.2" fill="url(#hs)"/>
</g>
<path d="M230.0,901.25 235.0,890.0 240.0,881.25 243.75,882.5 245.0,892.5 250.0,888.75 257.5,880.0 265.0,875.0 271.25,872.5 277.5,871.25 280.0,875.0 275.0,880.0 267.5,885.0 260.0,891.25 255.0,897.5 255.0,901.25Z" fill="url(#bo)"/>
<path d="M372.5,901.25 385.0,897.5 402.5,895.0 412.5,891.25 430.0,890.0 445.0,888.75 465.0,888.0 472.5,885.0 477.5,887.5 476.25,892.5 467.5,896.25 457.5,897.5 455.0,901.25Z" fill="url(#bl)"/>
<path d="M1100.0,294.0 1101.0,285.0 1105.0,280.0 1107.0,283.0 1106.0,294.0Z" fill="#fff"/>
<path d="M1112.0,290.0 1115.0,287.0 1112.0,282.0 1116.0,280.0 1121.0,286.0 1118.0,289.0 1121.0,294.0 1113.0,294.0Z" fill="#fff"/>
<path d="M1027.0,416.0 1031.0,411.0 1038.0,410.0 1040.0,416.0 1032.0,419.0Z" fill="#fff"/>
<path d="M1110.0,425.0 1114.0,423.0 1118.0,425.0 1114.0,427.0Z" fill="#fff"/>
<path d="M1114.0,423.0 1117.0,424.0 1116.0,426.0 1113.0,425.0Z" fill="#fff"/>
<path d="M126.25,627.0 128.75,626.25 128.75,632.5 126.25,632.5Z" fill="#fff"/>
<path d="M158.75,696.25 161.25,695.0 162.0,698.0 159.5,698.75Z" fill="#fff"/>
<path d="M925.5,635.0 927.5,635.0 927.5,641.25 925.5,641.25Z" fill="#fff"/>
<path d="M925.0,635.0 927.6,635.0 927.6,641.0 925.0,641.0Z" fill="#fff"/>
<path d="M942.0,674.0 946.0,672.0 951.0,674.0 951.0,682.0 947.0,682.0 943.0,679.0Z" fill="#fff"/>
<path d="M92.9,106.8V901.2M187.1,106.8V901.2M281.4,106.8V901.2M375.6,106.8V901.2M469.9,106.8V901.2M564.1,106.8V901.2M658.3,106.8V901.2M752.6,106.8V901.2M846.8,106.8V901.2M941.1,106.8V901.2M1035.3,106.8V901.2M1129.5,106.8V901.2M41.9,895.2H1133.2M41.9,838.7H1133.2M41.9,782.1H1133.2M41.9,725.6H1133.2M41.9,669.1H1133.2M41.9,612.6H1133.2M41.9,556.1H1133.2M41.9,499.5H1133.2M41.9,443.0H1133.2M41.9,386.5H1133.2M41.9,330.0H1133.2M41.9,273.5H1133.2M41.9,216.9H1133.2M41.9,160.4H1133.2M41.9,103.9H1133.2" stroke="#b4b4b4" stroke-width="1.5" stroke-dasharray="2 7.815" fill="none"/>
<polyline points="105.0,102.0 106.25,107.5 107.0,112.0 112.5,110.5 117.5,112.5 123.0,114.5 124.5,120.0 128.75,126.25 130.75,132.5 132.5,140.0 138.0,141.25 143.25,145.75 142.0,148.75 136.25,147.5 132.0,143.75 131.25,148.75 133.75,153.0 140.0,152.0 145.5,150.0 150.0,152.0 156.25,151.25 160.0,148.0 163.75,148.75 166.25,146.25 169.5,142.5 172.5,141.25 173.75,143.75 170.5,147.5 167.0,153.0" fill="none" stroke="#000" stroke-width="1.0" stroke-linejoin="round" shape-rendering="crispEdges"/>
<polyline points="167.0,153.0 168.75,147.5 171.25,140.0 171.25,133.75 174.5,126.25 177.5,120.0 180.0,115.0 181.25,110.0 182.0,102.0" fill="none" stroke="#000" stroke-width="1.0" stroke-linejoin="round" shape-rendering="crispEdges"/>
<polyline points="102.0,185.5 110.0,182.5 115.0,181.25 120.0,177.5 123.75,180.0" fill="none" stroke="#000" stroke-width="1.0" stroke-linejoin="round" shape-rendering="crispEdges"/>
<polyline points="133.75,177.5 142.5,173.75" fill="none" stroke="#000" stroke-width="1.0" stroke-linejoin="round" shape-rendering="crispEdges"/>
<polyline points="146.25,172.5 155.0,167.5 161.25,161.25 166.25,155.0" fill="none" stroke="#000" stroke-width="1.0" stroke-linejoin="round" shape-rendering="crispEdges"/>
<polyline points="271.25,150.0 276.25,149.5 281.25,151.25 283.75,156.25 286.25,167.5 292.5,176.25 295.0,183.75 294.5,191.25 287.5,195.0 280.0,198.75 276.25,193.75 272.5,188.75 266.25,185.0 262.5,181.25 265.0,177.5 268.75,176.25 272.0,167.5 271.25,160.0 271.25,150.0" fill="none" stroke="#000" stroke-width="1.0" stroke-linejoin="round" shape-rendering="crispEdges"/>
<polyline points="282.5,202.5 287.5,205.0 293.75,201.25 298.75,205.0 302.5,213.75 303.75,222.5 301.25,230.0 295.0,232.0 292.5,228.75 290.0,222.5 288.75,212.5 285.0,207.5 282.5,202.5" fill="none" stroke="#000" stroke-width="1.0" stroke-linejoin="round" shape-rendering="crispEdges"/>
<polyline points="302.5,158.75 307.5,156.25 315.0,157.5 312.5,160.5 305.0,161.25 302.5,158.75" fill="none" stroke="#000" stroke-width="1.0" stroke-linejoin="round" shape-rendering="crispEdges"/>
<polyline points="310.0,103.75 316.25,107.5 320.0,110.0 319.5,102.5" fill="none" stroke="#000" stroke-width="1.0" stroke-linejoin="round" shape-rendering="crispEdges"/>
<polyline points="287.0,116.25 290.0,119.5" fill="none" stroke="#000" stroke-width="1.0" stroke-linejoin="round" shape-rendering="crispEdges"/>
<polyline points="35.0,273.75 41.25,272.5 47.5,273.75 50.0,271.25 62.5,271.25 73.75,266.25 82.5,263.75 95.0,263.0 105.0,265.0 116.25,266.25 117.5,268.75 122.5,266.25 131.25,262.0 130.0,267.5 135.0,265.0 140.0,267.5 146.25,265.0 152.5,267.5 158.75,268.75 165.0,271.25 171.25,276.25 177.5,277.5 182.5,278.75 190.0,280.0 195.0,283.75 205.0,287.5 210.0,298.75 220.0,307.5 232.5,308.75 245.0,308.75 255.0,312.5 267.5,318.75" fill="none" stroke="#000" stroke-width="1.0" stroke-linejoin="round" shape-rendering="crispEdges"/>
<polyline points="205.0,285.0 211.25,288.75 218.75,295.0 212.5,292.5 205.0,287.5" fill="none" stroke="#000" stroke-width="1.0" stroke-linejoin="round" shape-rendering="crispEdges"/>
<polyline points="230.0,292.5 236.25,292.5" fill="none" stroke="#000" stroke-width="1.0" stroke-linejoin="round" shape-rendering="crispEdges"/>
<polyline points="341.25,128.75 343.75,128.75 343.75,133.75 346.25,136.25 352.5,140.0 358.75,141.25 363.75,146.25 368.75,152.5 370.5,156.25 367.5,162.5 368.75,167.5 367.5,177.5 360.0,171.25 365.0,170.0 367.0,163.75 367.5,155.0 360.0,143.75 352.5,141.25 345.0,136.25 340.0,136.25 341.25,128.75" fill="none" stroke="#000" stroke-width="1.0" stroke-linejoin="round" shape-rendering="crispEdges"/>
<polyline points="388.75,178.75 391.25,177.5 396.25,187.5 403.75,200.0 408.75,208.75 400.0,209.5 402.5,203.75 397.5,195.0 393.75,187.5 388.75,181.25" fill="none" stroke="#000" stroke-width="1.0" stroke-linejoin="round" shape-rendering="crispEdges"/>
<polyline points="350.0,201.25 352.5,203.75" fill="none" stroke="#000" stroke-width="1.0" stroke-linejoin="round" shape-rendering="crispEdges"/>
<polyline points="356.25,210.5 360.0,217.0" fill="none" stroke="#000" stroke-width="1.0" stroke-linejoin="round" shape-rendering="crispEdges"/>
<polyline points="444.5,219.5 445.5,212.5 448.0,209.5 449.5,214.5 447.5,218.75 444.5,219.5" fill="none" stroke="#000" stroke-width="1.0" stroke-linejoin="round" shape-rendering="crispEdges"/>
<polyline points="425.0,235.0 428.75,233.0 432.5,234.5 431.25,236.25 426.25,236.25 425.0,235.0" fill="none" stroke="#000" stroke-width="1.0" stroke-linejoin="round" shape-rendering="crispEdges"/>
<polyline points="375.0,236.25 380.0,237.5 386.25,243.75 397.5,250.0 391.25,248.0 380.0,242.5 374.5,238.75 375.0,236.25" fill="none" stroke="#000" stroke-width="1.0" stroke-linejoin="round" shape-rendering="crispEdges"/>
<polyline points="407.5,236.25 410.0,237.5 416.25,251.25 417.5,261.25 426.25,270.0 430.0,280.0 427.5,278.75 422.5,270.0 415.0,266.25 413.75,262.5 416.25,256.25 411.25,245.0 407.0,237.5" fill="none" stroke="#000" stroke-width="1.0" stroke-linejoin="round" shape-rendering="crispEdges"/>
<polyline points="478.75,268.0 481.25,267.0 483.75,268.25 481.25,269.5 478.75,268.0" fill="none" stroke="#000" stroke-width="1.0" stroke-linejoin="round" shape-rendering="crispEdges"/>
<polyline points="453.75,282.5 460.0,285.0 466.25,288.75 467.5,291.25 457.5,290.0 453.75,297.5 455.0,292.5 456.25,287.5 453.75,282.5" fill="none" stroke="#000" stroke-width="1.0" stroke-linejoin="round" shape-rendering="crispEdges"/>
<polyline points="470.0,290.0 476.25,288.75 477.5,300.0 472.5,307.5 466.25,312.5 457.5,318.75 461.25,312.5 468.75,306.25 473.75,297.5 472.5,292.5 470.0,290.0" fill="none" stroke="#000" stroke-width="1.0" stroke-linejoin="round" shape-rendering="crispEdges"/>
<polyline points="491.25,295.0 495.0,295.75" fill="none" stroke="#000" stroke-width="1.0" stroke-linejoin="round" shape-rendering="crispEdges"/>
<polyline points="510.0,305.0 520.0,307.5 528.75,311.25 527.5,313.75 520.0,310.0 510.0,310.0 510.0,305.0" fill="none" stroke="#000" stroke-width="1.0" stroke-linejoin="round" shape-rendering="crispEdges"/>
<polyline points="35.0,311.25 41.25,302.5 50.0,298.75 56.25,291.25 70.0,291.25 90.0,292.0 102.5,293.0 109.5,297.0 108.0,302.5 101.25,305.0 87.5,306.25 85.5,308.0 90.0,311.25 97.5,316.25 105.0,320.0 115.0,321.25 123.75,323.75 127.5,322.5 130.0,315.5 132.5,316.25 133.75,323.75 137.5,327.0 150.0,327.0 160.0,326.25 163.75,325.0 162.5,320.0 166.25,321.25 167.5,326.25 173.75,335.0 180.0,340.0 187.5,343.75 195.0,346.25 205.0,350.0 215.0,353.75 225.0,356.25 235.0,352.5 246.25,351.25 250.0,355.0 255.0,365.0 257.5,370.0 257.5,385.0 262.5,390.0 270.0,397.5 280.0,402.5 290.0,402.5 300.0,405.0 312.5,402.5 318.75,407.5 321.25,413.75 323.75,420.0 317.5,430.0 307.5,436.25 300.0,441.25 293.75,452.5 305.0,450.0 317.5,448.75 330.0,450.0" fill="none" stroke="#000" stroke-width="1.0" stroke-linejoin="round" shape-rendering="crispEdges"/>
<polyline points="267.5,318.75 277.5,325.0 287.5,336.25 300.0,342.5 310.0,347.5 317.5,352.5 330.0,358.75" fill="none" stroke="#000" stroke-width="1.0" stroke-linejoin="round" shape-rendering="crispEdges"/>
<polyline points="37.5,353.75 41.25,352.5 46.25,350.0 43.75,342.5 41.25,338.75 46.25,333.75 55.0,335.0 62.5,340.0 66.25,350.0 62.5,357.5 50.0,362.0 42.5,358.75 37.5,353.75" fill="none" stroke="#000" stroke-width="1.0" stroke-linejoin="round" shape-rendering="crispEdges"/>
<polyline points="113.75,352.0 122.5,346.25" fill="none" stroke="#000" stroke-width="1.0" stroke-linejoin="round" shape-rendering="crispEdges"/>
<polyline points="216.25,380.0 220.0,381.75" fill="none" stroke="#000" stroke-width="1.0" stroke-linejoin="round" shape-rendering="crispEdges"/>
<polyline points="223.75,386.25 230.0,390.0 237.5,396.25 245.0,401.25" fill="none" stroke="#000" stroke-width="1.0" stroke-linejoin="round" shape-rendering="crispEdges"/>
<polyline points="255.0,403.0 260.0,402.0" fill="none" stroke="#000" stroke-width="1.0" stroke-linejoin="round" shape-rendering="crispEdges"/>
<polyline points="258.75,408.75 265.0,412.5" fill="none" stroke="#000" stroke-width="1.0" stroke-linejoin="round" shape-rendering="crispEdges"/>
<polyline points="181.25,462.5 187.5,460.5" fill="none" stroke="#000" stroke-width="1.0" stroke-linejoin="round" shape-rendering="crispEdges"/>
<polyline points="192.5,460.0 198.0,457.0" fill="none" stroke="#000" stroke-width="1.0" stroke-linejoin="round" shape-rendering="crispEdges"/>
<polyline points="120.5,477.5 123.75,478.75 128.75,480.0 135.0,480.5 134.5,483.0 125.0,484.5 121.25,482.5 120.5,477.5" fill="none" stroke="#000" stroke-width="1.0" stroke-linejoin="round" shape-rendering="crispEdges"/>
<polyline points="250.0,300.0 262.5,298.75 266.25,303.75 270.0,307.5 276.25,310.0 280.0,316.25 282.5,322.5 290.0,326.25 298.75,327.5 297.5,332.5 290.0,331.25 285.0,327.5 281.25,320.0 270.0,311.25 262.5,303.75 250.0,301.25" fill="none" stroke="#000" stroke-width="1.0" stroke-linejoin="round" shape-rendering="crispEdges"/>
<polyline points="301.25,335.0 305.0,337.5 310.0,342.5 315.0,347.5 321.25,352.5 322.5,357.5 317.5,358.75 310.0,350.0 302.5,342.5 301.25,335.0" fill="none" stroke="#000" stroke-width="1.0" stroke-linejoin="round" shape-rendering="crispEdges"/>
<polyline points="287.5,313.75 292.5,320.0" fill="none" stroke="#000" stroke-width="1.0" stroke-linejoin="round" shape-rendering="crispEdges"/>
<polyline points="562.5,333.75 566.25,332.5 568.75,336.25 573.75,338.0 580.0,340.0 579.5,343.75 572.5,342.5 567.5,337.5 562.5,335.0" fill="none" stroke="#000" stroke-width="1.0" stroke-linejoin="round" shape-rendering="crispEdges"/>
<polyline points="583.75,344.5 589.5,347.0" fill="none" stroke="#000" stroke-width="1.0" stroke-linejoin="round" shape-rendering="crispEdges"/>
<polyline points="548.75,338.75 552.5,338.0 556.25,342.5 551.25,343.75 548.75,338.75" fill="none" stroke="#000" stroke-width="1.0" stroke-linejoin="round" shape-rendering="crispEdges"/>
<polyline points="542.5,347.5 543.25,350.0" fill="none" stroke="#000" stroke-width="1.0" stroke-linejoin="round" shape-rendering="crispEdges"/>
<polyline points="604.5,357.5 605.5,360.0" fill="none" stroke="#000" stroke-width="1.0" stroke-linejoin="round" shape-rendering="crispEdges"/>
<polyline points="513.75,360.0 517.0,356.25 521.25,358.75 516.25,361.75 513.75,360.0" fill="none" stroke="#000" stroke-width="1.0" stroke-linejoin="round" shape-rendering="crispEdges"/>
<polyline points="483.75,382.5 490.0,377.5 496.25,375.0 505.0,376.25 513.75,368.75 516.25,370.0 515.0,380.0 510.0,387.5 500.0,388.75 485.0,390.5 483.75,382.5" fill="none" stroke="#000" stroke-width="1.0" stroke-linejoin="round" shape-rendering="crispEdges"/>
<polyline points="330.0,358.75 335.0,363.75 333.75,367.5 340.0,368.75 343.75,372.5 350.0,373.0 355.0,371.25 362.5,375.0 370.0,380.0 380.0,381.25 388.75,380.0 393.75,385.0 395.0,392.5 390.0,393.75 387.5,400.0 392.5,402.5 397.5,401.25 402.5,402.5 410.0,405.0 417.5,403.75 425.0,406.25 432.5,410.0 440.0,417.5 447.5,423.75 455.0,426.25 461.25,426.25 463.75,430.0 462.5,435.0 457.5,437.5 452.5,438.0 442.5,438.75 435.0,440.0 427.5,442.5 420.0,445.0 416.25,448.75 405.0,449.5 390.0,446.25 377.5,445.0 367.5,442.5 355.0,443.75 342.5,445.5 330.0,448.0" fill="none" stroke="#000" stroke-width="1.0" stroke-linejoin="round" shape-rendering="crispEdges"/>
<polyline points="630.0,455.0 617.5,450.0 610.0,447.5 600.0,450.0 590.0,448.75 577.5,450.0 576.25,455.0 570.0,460.0 562.5,458.75 555.0,457.5 548.75,455.0 542.5,452.5 535.0,450.0 530.0,446.25 520.0,447.5 505.0,448.75 497.5,452.5 495.0,460.0 500.0,463.75 510.0,465.0 520.0,467.5 530.0,475.0 531.25,485.0 527.5,495.0" fill="none" stroke="#000" stroke-width="1.0" stroke-linejoin="round" shape-rendering="crispEdges"/>
<polyline points="520.0,440.0 527.5,438.0 533.0,442.5 527.5,443.75 521.25,442.0 520.0,440.0" fill="none" stroke="#000" stroke-width="1.0" stroke-linejoin="round" shape-rendering="crispEdges"/>
<polyline points="630.0,455.5 637.5,457.0 645.0,463.75 653.75,462.5 661.25,461.25 663.75,470.0 667.5,480.0 677.5,482.5 685.0,480.0 695.0,480.0 697.5,485.0 691.25,488.0 680.0,488.75 675.0,490.0 680.0,493.0 697.5,494.5" fill="none" stroke="#000" stroke-width="1.0" stroke-linejoin="round" shape-rendering="crispEdges"/>
<polyline points="922.0,514.4 926.0,513.6 929.0,516.0 925.0,516.0 922.0,514.4" fill="none" stroke="#000" stroke-width="1.0" stroke-linejoin="round" shape-rendering="crispEdges"/>
<polyline points="921.0,529.0 925.0,527.0 925.0,530.0 921.0,530.4 921.0,529.0" fill="none" stroke="#000" stroke-width="1.0" stroke-linejoin="round" shape-rendering="crispEdges"/>
<polyline points="906.0,537.0 909.0,532.0 914.4,531.0 913.0,534.0 908.0,538.0 906.0,537.0" fill="none" stroke="#000" stroke-width="1.0" stroke-linejoin="round" shape-rendering="crispEdges"/>
<polyline points="980.4,546.0 984.0,542.0 988.4,541.0 988.0,544.0 983.0,546.0" fill="none" stroke="#000" stroke-width="1.0" stroke-linejoin="round" shape-rendering="crispEdges"/>
<polyline points="981.6,552.0 984.0,549.6 987.0,551.0 988.0,555.0 984.0,555.0 981.6,552.0" fill="none" stroke="#000" stroke-width="1.0" stroke-linejoin="round" shape-rendering="crispEdges"/>
<polyline points="994.4,560.0 996.4,561.0" fill="none" stroke="#000" stroke-width="1.0" stroke-linejoin="round" shape-rendering="crispEdges"/>
<polyline points="900.0,569.0 906.0,568.0 915.0,570.0 910.0,573.0 900.0,574.0" fill="none" stroke="#000" stroke-width="1.0" stroke-linejoin="round" shape-rendering="crispEdges"/>
<polyline points="1042.0,574.0 1046.0,573.6 1048.4,578.0 1048.0,581.6 1044.0,580.0 1041.0,577.0 1042.0,574.0" fill="none" stroke="#000" stroke-width="1.0" stroke-linejoin="round" shape-rendering="crispEdges"/>
<polyline points="995.0,592.0 998.0,589.6 1002.0,593.0 1006.0,599.0 1002.0,599.0 996.0,595.0 995.0,592.0" fill="none" stroke="#000" stroke-width="1.0" stroke-linejoin="round" shape-rendering="crispEdges"/>
<polyline points="263.75,541.25 266.25,536.25 272.5,532.5 280.0,531.25 285.0,527.5 295.0,527.5 305.0,530.0 317.5,532.5 330.0,535.0" fill="none" stroke="#000" stroke-width="1.0" stroke-linejoin="round" shape-rendering="crispEdges"/>
<polyline points="263.75,541.25 270.0,543.75 280.0,545.0 285.0,550.0 291.25,562.5 297.5,565.0 305.0,565.0 315.0,565.0 320.0,571.25 325.0,565.0 330.0,562.5" fill="none" stroke="#000" stroke-width="1.0" stroke-linejoin="round" shape-rendering="crispEdges"/>
<polyline points="330.0,533.75 340.0,538.75 350.0,542.5 358.75,546.25 362.5,555.0 365.0,562.5 355.0,563.75 347.5,562.5 342.5,560.0 337.5,557.5 332.5,558.75" fill="none" stroke="#000" stroke-width="1.0" stroke-linejoin="round" shape-rendering="crispEdges"/>
<polyline points="450.0,522.5 447.5,531.25 455.0,537.5 465.0,542.5 473.75,548.75 477.5,555.0 480.0,552.5 482.5,547.5 486.25,543.75 490.0,542.5 505.0,543.75 517.5,547.5 530.0,547.5 537.5,545.0 550.0,543.75 562.5,542.5 572.5,547.5" fill="none" stroke="#000" stroke-width="1.0" stroke-linejoin="round" shape-rendering="crispEdges"/>
<polyline points="450.0,522.5 460.0,518.75 470.0,521.25 480.0,523.75 490.0,527.5 505.0,530.0 517.5,531.25 530.0,531.25 537.5,528.75 547.5,522.5 548.75,517.5 542.5,515.0 535.0,510.0 530.0,505.0 527.5,497.5 530.0,493.75 528.75,490.0" fill="none" stroke="#000" stroke-width="1.0" stroke-linejoin="round" shape-rendering="crispEdges"/>
<polyline points="503.75,503.75 507.5,501.25 517.5,505.0 526.25,512.5 522.5,515.0 515.0,511.25 505.0,507.5 503.75,503.75" fill="none" stroke="#000" stroke-width="1.0" stroke-linejoin="round" shape-rendering="crispEdges"/>
<polyline points="573.75,527.5 577.5,525.0 585.0,527.5 587.5,530.0 582.5,531.25 575.0,530.0 573.75,527.5" fill="none" stroke="#000" stroke-width="1.0" stroke-linejoin="round" shape-rendering="crispEdges"/>
<polyline points="480.0,521.25 483.0,520.5 485.0,523.0 481.25,523.75 480.0,521.25" fill="none" stroke="#000" stroke-width="1.0" stroke-linejoin="round" shape-rendering="crispEdges"/>
<polyline points="483.75,551.25 488.75,552.0" fill="none" stroke="#000" stroke-width="1.0" stroke-linejoin="round" shape-rendering="crispEdges"/>
<polyline points="630.0,543.75 640.0,542.5 652.5,540.0 660.0,532.5 670.0,530.5 680.0,531.25 695.0,532.5 705.0,535.0 712.5,536.25 716.25,542.5 720.0,543.75 725.0,535.0 730.0,533.75 732.5,527.5 737.5,521.25 732.5,513.75 725.0,507.5 715.0,501.25 707.5,497.5 700.0,500.0 692.5,497.5 680.0,495.0 675.0,492.5" fill="none" stroke="#000" stroke-width="1.0" stroke-linejoin="round" shape-rendering="crispEdges"/>
<polyline points="716.25,546.25 720.0,545.5 725.0,548.0 720.0,549.5 716.25,546.25" fill="none" stroke="#000" stroke-width="1.0" stroke-linejoin="round" shape-rendering="crispEdges"/>
<polyline points="787.5,535.0 792.5,527.5 810.0,527.5 830.0,528.75 845.0,530.0 855.0,531.25 863.75,535.0 865.0,542.5 857.5,547.5 853.75,555.0 842.5,560.0 830.0,557.5 820.0,557.0 805.0,558.75 792.5,558.75 791.25,547.5 790.0,540.0 787.5,535.0" fill="none" stroke="#000" stroke-width="1.0" stroke-linejoin="round" shape-rendering="crispEdges"/>
<polyline points="755.0,550.0 757.5,549.0 760.0,551.0 757.0,552.0 755.0,550.0" fill="none" stroke="#000" stroke-width="1.0" stroke-linejoin="round" shape-rendering="crispEdges"/>
<polyline points="867.5,550.0 875.0,547.0 880.0,548.75 876.25,550.5 867.5,551.25" fill="none" stroke="#000" stroke-width="1.0" stroke-linejoin="round" shape-rendering="crispEdges"/>
<polyline points="878.75,537.5 881.25,538.75" fill="none" stroke="#000" stroke-width="1.0" stroke-linejoin="round" shape-rendering="crispEdges"/>
<polyline points="892.5,535.0 897.5,535.75 901.25,538.0 895.0,537.5" fill="none" stroke="#000" stroke-width="1.0" stroke-linejoin="round" shape-rendering="crispEdges"/>
<polyline points="906.25,536.25 910.0,532.5 913.75,532.0 910.0,535.0" fill="none" stroke="#000" stroke-width="1.0" stroke-linejoin="round" shape-rendering="crispEdges"/>
<polyline points="921.25,530.0 923.75,527.5 925.0,530.0" fill="none" stroke="#000" stroke-width="1.0" stroke-linejoin="round" shape-rendering="crispEdges"/>
<polyline points="922.0,514.5 927.5,515.5" fill="none" stroke="#000" stroke-width="1.0" stroke-linejoin="round" shape-rendering="crispEdges"/>
<polyline points="900.0,570.0 905.0,568.75 913.75,570.5 907.5,573.0 900.0,573.0 900.0,570.0" fill="none" stroke="#000" stroke-width="1.0" stroke-linejoin="round" shape-rendering="crispEdges"/>
<polyline points="995.0,590.0 996.0,593.0 1001.0,597.0 1005.0,599.0 1004.0,596.0 1000.0,592.0 997.0,590.0" fill="none" stroke="#000" stroke-width="1.0" stroke-linejoin="round" shape-rendering="crispEdges"/>
<polyline points="1005.6,602.0 1009.0,601.0 1010.0,607.0 1006.4,607.6 1005.6,602.0" fill="none" stroke="#000" stroke-width="1.0" stroke-linejoin="round" shape-rendering="crispEdges"/>
<polyline points="1041.0,605.0 1044.0,603.6 1049.0,606.0 1050.4,610.0 1048.0,613.0 1043.0,612.0 1041.0,608.0 1041.0,605.0" fill="none" stroke="#000" stroke-width="1.0" stroke-linejoin="round" shape-rendering="crispEdges"/>
<polyline points="1025.0,625.0 1026.4,623.0 1029.0,628.0 1027.0,631.0 1025.0,629.0 1025.0,625.0" fill="none" stroke="#000" stroke-width="1.0" stroke-linejoin="round" shape-rendering="crispEdges"/>
<polyline points="1046.0,652.0 1049.0,650.0 1054.0,652.0 1056.0,660.0 1056.0,668.0 1052.0,671.0 1048.0,669.0 1046.0,662.0 1046.0,652.0" fill="none" stroke="#000" stroke-width="1.0" stroke-linejoin="round" shape-rendering="crispEdges"/>
<polyline points="1056.0,656.0 1058.0,650.0 1058.0,643.0 1061.0,641.0 1064.0,644.0 1065.0,648.0 1070.0,652.0 1074.0,655.0 1068.0,656.0 1062.0,655.0 1058.0,657.0" fill="none" stroke="#000" stroke-width="1.0" stroke-linejoin="round" shape-rendering="crispEdges"/>
<polyline points="1067.0,672.0 1070.0,669.6 1073.0,672.0 1072.0,676.0 1068.0,676.4 1067.0,672.0" fill="none" stroke="#000" stroke-width="1.0" stroke-linejoin="round" shape-rendering="crispEdges"/>
<polyline points="1060.0,692.0 1063.0,690.0 1067.0,692.0 1070.0,698.0 1071.0,706.0 1069.0,712.0 1065.6,714.0 1063.0,708.0 1060.0,700.0 1060.0,692.0" fill="none" stroke="#000" stroke-width="1.0" stroke-linejoin="round" shape-rendering="crispEdges"/>
<polyline points="1072.0,734.0 1076.0,732.4 1081.0,736.0 1086.0,740.0 1089.0,748.0 1091.0,756.0 1089.0,759.0 1084.0,756.0 1078.0,756.0 1077.6,750.0 1081.0,749.0 1077.0,746.0 1074.0,742.0 1071.6,737.0 1072.0,734.0" fill="none" stroke="#000" stroke-width="1.0" stroke-linejoin="round" shape-rendering="crispEdges"/>
<polyline points="1080.0,650.0 1083.0,649.0" fill="none" stroke="#000" stroke-width="1.0" stroke-linejoin="round" shape-rendering="crispEdges"/>
<polyline points="34.5,723.75 39.5,726.25 35.0,728.75" fill="none" stroke="#000" stroke-width="1.0" stroke-linejoin="round" shape-rendering="crispEdges"/>
<polyline points="34.5,745.0 37.0,757.5 34.5,770.0" fill="none" stroke="#000" stroke-width="1.0" stroke-linejoin="round" shape-rendering="crispEdges"/>
<polyline points="122.5,817.5 123.75,820.0" fill="none" stroke="#000" stroke-width="1.0" stroke-linejoin="round" shape-rendering="crispEdges"/>
<polyline points="107.0,862.5 106.5,867.5" fill="none" stroke="#000" stroke-width="1.0" stroke-linejoin="round" shape-rendering="crispEdges"/>
<polyline points="551.25,901.25 555.0,892.5 557.5,882.5 556.25,880.0 562.5,878.75 565.0,886.25 568.75,883.75 572.5,875.0 576.25,872.5 580.0,870.0 587.5,871.25 597.5,877.5 602.5,885.0 605.0,892.5 606.25,900.0" fill="none" stroke="#000" stroke-width="1.0" stroke-linejoin="round" shape-rendering="crispEdges"/>
<polyline points="655.0,861.25 658.0,860.0 662.5,866.25 664.5,871.25 661.25,871.25 656.25,866.25 655.0,861.25" fill="none" stroke="#000" stroke-width="1.0" stroke-linejoin="round" shape-rendering="crispEdges"/>
<polyline points="644.5,900.0 647.5,890.0 652.5,886.25 657.5,883.75 663.75,887.5 666.25,893.75 667.5,900.0" fill="none" stroke="#000" stroke-width="1.0" stroke-linejoin="round" shape-rendering="crispEdges"/>
<polyline points="697.5,875.0 701.25,873.75 705.0,881.25 710.0,885.0 716.25,890.0 715.0,892.5 708.75,890.5 702.5,885.0 698.0,880.0 697.5,875.0" fill="none" stroke="#000" stroke-width="1.0" stroke-linejoin="round" shape-rendering="crispEdges"/>
<polyline points="733.75,878.75 736.25,878.0 742.5,882.5 743.0,888.75 740.0,893.75 739.5,886.25 734.5,882.5 733.75,878.75" fill="none" stroke="#000" stroke-width="1.0" stroke-linejoin="round" shape-rendering="crispEdges"/>
<polyline points="1079.0,790.0 1082.0,780.0 1085.0,777.6 1088.0,780.0 1088.0,792.0 1085.6,798.0 1080.0,796.0 1079.0,790.0" fill="none" stroke="#000" stroke-width="1.0" stroke-linejoin="round" shape-rendering="crispEdges"/>
<polyline points="1069.0,826.0 1071.0,820.0 1074.0,818.0 1076.4,821.0 1076.0,829.0 1072.0,830.4 1069.0,826.0" fill="none" stroke="#000" stroke-width="1.0" stroke-linejoin="round" shape-rendering="crispEdges"/>
<polyline points="1070.0,839.0 1073.0,837.0" fill="none" stroke="#000" stroke-width="1.0" stroke-linejoin="round" shape-rendering="crispEdges"/>
<polyline points="1067.0,854.0 1068.0,856.0" fill="none" stroke="#000" stroke-width="1.0" stroke-linejoin="round" shape-rendering="crispEdges"/>
<polyline points="1059.6,868.0 1061.6,867.0 1062.4,869.0 1060.0,869.6 1059.6,868.0" fill="none" stroke="#000" stroke-width="1.0" stroke-linejoin="round" shape-rendering="crispEdges"/>
<polyline points="576.7,450.2 576.7,459.3 578.2,469.8 576.7,480.4 581.2,489.5 576.0,497.0 571.4,501.6 576.7,507.6 577.5,515.2 573.0,521.2 565.4,520.5 562.4,524.2 565.9,528.6 577.1,537.3 575.4,545.9 574.5,552.8" fill="none" stroke="#000" stroke-width="1.0" stroke-linejoin="round" shape-rendering="crispEdges"/>
<polyline points="572.5,547.5 574.5,552.8 579.7,558.0 582.3,569.2 586.6,570.0 591.8,577.4 596.1,569.2 602.1,560.6 607.3,548.5 606.4,540.7 609.0,538.1 614.2,541.6 619.4,536.4 625.4,531.2 629.7,532.9 631.5,542.4 640.0,542.4" fill="none" stroke="#000" stroke-width="1.0" stroke-linejoin="round" shape-rendering="crispEdges"/>
</g>
<g font-family="Liberation Sans, sans-serif" font-size="14.5" fill="#a0a0a0" stroke="#a0a0a0" stroke-width="0.45">
<text x="4.7" y="900.5" textLength="20.3" lengthAdjust="spacingAndGlyphs">12N</text>
<rect x="28.5" y="894.2" width="2" height="2" fill="#a8a8a8"/>
<text x="4.7" y="844.0" textLength="20.3" lengthAdjust="spacingAndGlyphs">13N</text>
<rect x="28.5" y="837.7" width="2" height="2" fill="#a8a8a8"/>
<text x="4.7" y="787.4" textLength="20.3" lengthAdjust="spacingAndGlyphs">14N</text>
<rect x="28.5" y="781.1" width="2" height="2" fill="#a8a8a8"/>
<text x="4.7" y="730.9" textLength="20.3" lengthAdjust="spacingAndGlyphs">15N</text>
<rect x="28.5" y="724.6" width="2" height="2" fill="#a8a8a8"/>
<text x="4.7" y="674.4" textLength="20.3" lengthAdjust="spacingAndGlyphs">16N</text>
<rect x="28.5" y="668.1" width="2" height="2" fill="#a8a8a8"/>
<text x="4.7" y="617.9" textLength="20.3" lengthAdjust="spacingAndGlyphs">17N</text>
<rect x="28.5" y="611.6" width="2" height="2" fill="#a8a8a8"/>
<text x="4.7" y="561.4" textLength="20.3" lengthAdjust="spacingAndGlyphs">18N</text>
<rect x="28.5" y="555.1" width="2" height="2" fill="#a8a8a8"/>
<text x="4.7" y="504.8" textLength="20.3" lengthAdjust="spacingAndGlyphs">19N</text>
<rect x="28.5" y="498.5" width="2" height="2" fill="#a8a8a8"/>
<text x="4.7" y="448.3" textLength="20.3" lengthAdjust="spacingAndGlyphs">20N</text>
<rect x="28.5" y="442.0" width="2" height="2" fill="#a8a8a8"/>
<text x="4.7" y="391.8" textLength="20.3" lengthAdjust="spacingAndGlyphs">21N</text>
<rect x="28.5" y="385.5" width="2" height="2" fill="#a8a8a8"/>
<text x="4.7" y="335.3" textLength="20.3" lengthAdjust="spacingAndGlyphs">22N</text>
<rect x="28.5" y="329.0" width="2" height="2" fill="#a8a8a8"/>
<text x="4.7" y="278.8" textLength="20.3" lengthAdjust="spacingAndGlyphs">23N</text>
<rect x="28.5" y="272.5" width="2" height="2" fill="#a8a8a8"/>
<text x="4.7" y="222.2" textLength="20.3" lengthAdjust="spacingAndGlyphs">24N</text>
<rect x="28.5" y="215.9" width="2" height="2" fill="#a8a8a8"/>
<text x="4.7" y="165.7" textLength="20.3" lengthAdjust="spacingAndGlyphs">25N</text>
<rect x="28.5" y="159.4" width="2" height="2" fill="#a8a8a8"/>
<text x="4.7" y="109.2" textLength="20.3" lengthAdjust="spacingAndGlyphs">26N</text>
<rect x="28.5" y="102.9" width="2" height="2" fill="#a8a8a8"/>
<text x="81.9" y="918.8" textLength="22" lengthAdjust="spacingAndGlyphs">82W</text>
<rect x="92.1" y="905.2" width="1.6" height="1.6" fill="#a8a8a8"/>
<text x="176.1" y="918.8" textLength="22" lengthAdjust="spacingAndGlyphs">80W</text>
<rect x="186.3" y="905.2" width="1.6" height="1.6" fill="#a8a8a8"/>
<text x="270.4" y="918.8" textLength="22" lengthAdjust="spacingAndGlyphs">78W</text>
<rect x="280.6" y="905.2" width="1.6" height="1.6" fill="#a8a8a8"/>
<text x="364.6" y="918.8" textLength="22" lengthAdjust="spacingAndGlyphs">76W</text>
<rect x="374.8" y="905.2" width="1.6" height="1.6" fill="#a8a8a8"/>
<text x="458.9" y="918.8" textLength="22" lengthAdjust="spacingAndGlyphs">74W</text>
<rect x="469.1" y="905.2" width="1.6" height="1.6" fill="#a8a8a8"/>
<text x="553.1" y="918.8" textLength="22" lengthAdjust="spacingAndGlyphs">72W</text>
<rect x="563.3" y="905.2" width="1.6" height="1.6" fill="#a8a8a8"/>
<text x="647.3" y="918.8" textLength="22" lengthAdjust="spacingAndGlyphs">70W</text>
<rect x="657.5" y="905.2" width="1.6" height="1.6" fill="#a8a8a8"/>
<text x="741.6" y="918.8" textLength="22" lengthAdjust="spacingAndGlyphs">68W</text>
<rect x="751.8" y="905.2" width="1.6" height="1.6" fill="#a8a8a8"/>
<text x="835.8" y="918.8" textLength="22" lengthAdjust="spacingAndGlyphs">66W</text>
<rect x="846.0" y="905.2" width="1.6" height="1.6" fill="#a8a8a8"/>
<text x="930.1" y="918.8" textLength="22" lengthAdjust="spacingAndGlyphs">64W</text>
<rect x="940.3" y="905.2" width="1.6" height="1.6" fill="#a8a8a8"/>
<text x="1024.3" y="918.8" textLength="22" lengthAdjust="spacingAndGlyphs">62W</text>
<rect x="1034.5" y="905.2" width="1.6" height="1.6" fill="#a8a8a8"/>
<text x="1118.5" y="918.8" textLength="22" lengthAdjust="spacingAndGlyphs">60W</text>
<rect x="1128.7" y="905.2" width="1.6" height="1.6" fill="#a8a8a8"/>
</g>
<rect x="1144.7" y="98.7" width="17.4" height="805.4" fill="#fff" stroke="#d0d0d0" stroke-width="1.4"/>
<rect x="1145.8" y="99.72" width="15.3" height="10.03" fill="#000a80" fill-opacity="0.3"/>
<rect x="1145.8" y="101.00" width="15.3" height="8.75" fill="#000a80"/>
<rect x="1145.8" y="109.75" width="15.3" height="10.03" fill="#000f86" fill-opacity="0.3"/>
<rect x="1145.8" y="111.03" width="15.3" height="8.75" fill="#000f86"/>
<rect x="1145.8" y="119.78" width="15.3" height="10.03" fill="#00148b" fill-opacity="0.3"/>
<rect x="1145.8" y="121.06" width="15.3" height="8.75" fill="#00148b"/>
<rect x="1145.8" y="129.81" width="15.3" height="10.03" fill="#001991" fill-opacity="0.3"/>
<rect x="1145.8" y="131.09" width="15.3" height="8.75" fill="#001991"/>
<rect x="1145.8" y="139.84" width="15.3" height="10.03" fill="#002098" fill-opacity="0.3"/>
<rect x="1145.8" y="141.12" width="15.3" height="8.75" fill="#002098"/>
<rect x="1145.8" y="149.87" width="15.3" height="10.03" fill="#00269e" fill-opacity="0.3"/>
<rect x="1145.8" y="151.15" width="15.3" height="8.75" fill="#00269e"/>
<rect x="1145.8" y="159.90" width="15.3" height="10.03" fill="#002da5" fill-opacity="0.3"/>
<rect x="1145.8" y="161.18" width="15.3" height="8.75" fill="#002da5"/>
<rect x="1145.8" y="169.93" width="15.3" height="10.03" fill="#0034ac" fill-opacity="0.3"/>
<rect x="1145.8" y="171.21" width="15.3" height="8.75" fill="#0034ac"/>
<rect x="1145.8" y="179.96" width="15.3" height="10.03" fill="#003ab2" fill-opacity="0.3"/>
<rect x="1145.8" y="181.24" width="15.3" height="8.75" fill="#003ab2"/>
<rect x="1145.8" y="189.99" width="15.3" height="10.03" fill="#0041b9" fill-opacity="0.3"/>
<rect x="1145.8" y="191.27" width="15.3" height="8.75" fill="#0041b9"/>
<rect x="1145.8" y="200.02" width="15.3" height="10.03" fill="#0046be" fill-opacity="0.3"/>
<rect x="1145.8" y="201.30" width="15.3" height="8.75" fill="#0046be"/>
<rect x="1145.8" y="210.05" width="15.3" height="10.03" fill="#004bc3" fill-opacity="0.3"/>
<rect x="1145.8" y="211.33" width="15.3" height="8.75" fill="#004bc3"/>
<rect x="1145.8" y="220.08" width="15.3" height="10.03" fill="#0050c8" fill-opacity="0.3"/>
<rect x="1145.8" y="221.36" width="15.3" height="8.75" fill="#0050c8"/>
<rect x="1145.8" y="230.11" width="15.3" height="10.03" fill="#0057d0" fill-opacity="0.3"/>
<rect x="1145.8" y="231.39" width="15.3" height="8.75" fill="#0057d0"/>
<rect x="1145.8" y="240.14" width="15.3" height="10.03" fill="#005dd9" fill-opacity="0.3"/>
<rect x="1145.8" y="241.42" width="15.3" height="8.75" fill="#005dd9"/>
<rect x="1145.8" y="250.17" width="15.3" height="10.03" fill="#0064e1" fill-opacity="0.3"/>
<rect x="1145.8" y="251.45" width="15.3" height="8.75" fill="#0064e1"/>
<rect x="1145.8" y="260.20" width="15.3" height="10.03" fill="#036deb" fill-opacity="0.3"/>
<rect x="1145.8" y="261.48" width="15.3" height="8.75" fill="#036deb"/>
<rect x="1145.8" y="270.23" width="15.3" height="10.03" fill="#0777f5" fill-opacity="0.3"/>
<rect x="1145.8" y="271.51" width="15.3" height="8.75" fill="#0777f5"/>
<rect x="1145.8" y="280.26" width="15.3" height="10.03" fill="#0a80ff" fill-opacity="0.3"/>
<rect x="1145.8" y="281.54" width="15.3" height="8.75" fill="#0a80ff"/>
<rect x="1145.8" y="290.29" width="15.3" height="10.03" fill="#0f86fa" fill-opacity="0.3"/>
<rect x="1145.8" y="291.57" width="15.3" height="8.75" fill="#0f86fa"/>
<rect x="1145.8" y="300.32" width="15.3" height="10.03" fill="#148bf5" fill-opacity="0.3"/>
<rect x="1145.8" y="301.60" width="15.3" height="8.75" fill="#148bf5"/>
<rect x="1145.8" y="310.35" width="15.3" height="10.03" fill="#1991f0" fill-opacity="0.3"/>
<rect x="1145.8" y="311.63" width="15.3" height="8.75" fill="#1991f0"/>
<rect x="1145.8" y="320.38" width="15.3" height="10.03" fill="#1e96ed" fill-opacity="0.3"/>
<rect x="1145.8" y="321.66" width="15.3" height="8.75" fill="#1e96ed"/>
<rect x="1145.8" y="330.41" width="15.3" height="10.03" fill="#239beb" fill-opacity="0.3"/>
<rect x="1145.8" y="331.69" width="15.3" height="8.75" fill="#239beb"/>
<rect x="1145.8" y="340.44" width="15.3" height="10.03" fill="#28a0e8" fill-opacity="0.3"/>
<rect x="1145.8" y="341.72" width="15.3" height="8.75" fill="#28a0e8"/>
<rect x="1145.8" y="350.47" width="15.3" height="10.03" fill="#2ea6e5" fill-opacity="0.3"/>
<rect x="1145.8" y="351.75" width="15.3" height="8.75" fill="#2ea6e5"/>
<rect x="1145.8" y="360.50" width="15.3" height="10.03" fill="#34ace3" fill-opacity="0.3"/>
<rect x="1145.8" y="361.78" width="15.3" height="8.75" fill="#34ace3"/>
<rect x="1145.8" y="370.53" width="15.3" height="10.03" fill="#3ab2e0" fill-opacity="0.3"/>
<rect x="1145.8" y="371.81" width="15.3" height="8.75" fill="#3ab2e0"/>
<rect x="1145.8" y="380.56" width="15.3" height="10.03" fill="#40b8dd" fill-opacity="0.3"/>
<rect x="1145.8" y="381.84" width="15.3" height="8.75" fill="#40b8dd"/>
<rect x="1145.8" y="390.59" width="15.3" height="10.03" fill="#45bdda" fill-opacity="0.3"/>
<rect x="1145.8" y="391.87" width="15.3" height="8.75" fill="#45bdda"/>
<rect x="1145.8" y="400.62" width="15.3" height="10.03" fill="#4bc3d7" fill-opacity="0.3"/>
<rect x="1145.8" y="401.90" width="15.3" height="8.75" fill="#4bc3d7"/>
<rect x="1145.8" y="410.65" width="15.3" height="10.03" fill="#51c9d4" fill-opacity="0.3"/>
<rect x="1145.8" y="411.93" width="15.3" height="8.75" fill="#51c9d4"/>
<rect x="1145.8" y="420.68" width="15.3" height="10.03" fill="#58d0d2" fill-opacity="0.3"/>
<rect x="1145.8" y="421.96" width="15.3" height="8.75" fill="#58d0d2"/>
<rect x="1145.8" y="430.71" width="15.3" height="10.03" fill="#5ed6d0" fill-opacity="0.3"/>
<rect x="1145.8" y="431.99" width="15.3" height="8.75" fill="#5ed6d0"/>
<rect x="1145.8" y="440.74" width="15.3" height="10.03" fill="#64dccd" fill-opacity="0.3"/>
<rect x="1145.8" y="442.02" width="15.3" height="8.75" fill="#64dccd"/>
<rect x="1145.8" y="450.77" width="15.3" height="10.03" fill="#6de4ca" fill-opacity="0.3"/>
<rect x="1145.8" y="452.05" width="15.3" height="8.75" fill="#6de4ca"/>
<rect x="1145.8" y="460.80" width="15.3" height="10.03" fill="#77edc6" fill-opacity="0.3"/>
<rect x="1145.8" y="462.08" width="15.3" height="8.75" fill="#77edc6"/>
<rect x="1145.8" y="470.83" width="15.3" height="10.03" fill="#80f5c3" fill-opacity="0.3"/>
<rect x="1145.8" y="472.11" width="15.3" height="8.75" fill="#80f5c3"/>
<rect x="1145.8" y="480.86" width="15.3" height="10.03" fill="#c8f5a5" fill-opacity="0.3"/>
<rect x="1145.8" y="482.14" width="15.3" height="8.75" fill="#c8f5a5"/>
<rect x="1145.8" y="490.89" width="15.3" height="10.03" fill="#cbee9d" fill-opacity="0.3"/>
<rect x="1145.8" y="492.17" width="15.3" height="8.75" fill="#cbee9d"/>
<rect x="1145.8" y="500.92" width="15.3" height="10.03" fill="#cde894" fill-opacity="0.3"/>
<rect x="1145.8" y="502.20" width="15.3" height="8.75" fill="#cde894"/>
<rect x="1145.8" y="510.95" width="15.3" height="10.03" fill="#d0e18c" fill-opacity="0.3"/>
<rect x="1145.8" y="512.23" width="15.3" height="8.75" fill="#d0e18c"/>
<rect x="1145.8" y="520.98" width="15.3" height="10.03" fill="#d1d985" fill-opacity="0.3"/>
<rect x="1145.8" y="522.26" width="15.3" height="8.75" fill="#d1d985"/>
<rect x="1145.8" y="531.01" width="15.3" height="10.03" fill="#d3d07f" fill-opacity="0.3"/>
<rect x="1145.8" y="532.29" width="15.3" height="8.75" fill="#d3d07f"/>
<rect x="1145.8" y="541.04" width="15.3" height="10.03" fill="#d4c878" fill-opacity="0.3"/>
<rect x="1145.8" y="542.32" width="15.3" height="8.75" fill="#d4c878"/>
<rect x="1145.8" y="551.07" width="15.3" height="10.03" fill="#d7bf70" fill-opacity="0.3"/>
<rect x="1145.8" y="552.35" width="15.3" height="8.75" fill="#d7bf70"/>
<rect x="1145.8" y="561.10" width="15.3" height="10.03" fill="#dab669" fill-opacity="0.3"/>
<rect x="1145.8" y="562.38" width="15.3" height="8.75" fill="#dab669"/>
<rect x="1145.8" y="571.13" width="15.3" height="10.03" fill="#deae62" fill-opacity="0.3"/>
<rect x="1145.8" y="572.41" width="15.3" height="8.75" fill="#deae62"/>
<rect x="1145.8" y="581.16" width="15.3" height="10.03" fill="#e1a55a" fill-opacity="0.3"/>
<rect x="1145.8" y="582.44" width="15.3" height="8.75" fill="#e1a55a"/>
<rect x="1145.8" y="591.19" width="15.3" height="10.03" fill="#e39e54" fill-opacity="0.3"/>
<rect x="1145.8" y="592.47" width="15.3" height="8.75" fill="#e39e54"/>
<rect x="1145.8" y="601.22" width="15.3" height="10.03" fill="#e4964e" fill-opacity="0.3"/>
<rect x="1145.8" y="602.50" width="15.3" height="8.75" fill="#e4964e"/>
<rect x="1145.8" y="611.25" width="15.3" height="10.03" fill="#e68e47" fill-opacity="0.3"/>
<rect x="1145.8" y="612.53" width="15.3" height="8.75" fill="#e68e47"/>
<rect x="1145.8" y="621.28" width="15.3" height="10.03" fill="#e88741" fill-opacity="0.3"/>
<rect x="1145.8" y="622.56" width="15.3" height="8.75" fill="#e88741"/>
<rect x="1145.8" y="631.31" width="15.3" height="10.03" fill="#ea7f3a" fill-opacity="0.3"/>
<rect x="1145.8" y="632.59" width="15.3" height="8.75" fill="#ea7f3a"/>
<rect x="1145.8" y="641.34" width="15.3" height="10.03" fill="#eb7733" fill-opacity="0.3"/>
<rect x="1145.8" y="642.62" width="15.3" height="8.75" fill="#eb7733"/>
<rect x="1145.8" y="651.37" width="15.3" height="10.03" fill="#ed6f2c" fill-opacity="0.3"/>
<rect x="1145.8" y="652.65" width="15.3" height="8.75" fill="#ed6f2c"/>
<rect x="1145.8" y="661.40" width="15.3" height="10.03" fill="#ee6725" fill-opacity="0.3"/>
<rect x="1145.8" y="662.68" width="15.3" height="8.75" fill="#ee6725"/>
<rect x="1145.8" y="671.43" width="15.3" height="10.03" fill="#f05f1e" fill-opacity="0.3"/>
<rect x="1145.8" y="672.71" width="15.3" height="8.75" fill="#f05f1e"/>
<rect x="1145.8" y="681.46" width="15.3" height="10.03" fill="#f25a17" fill-opacity="0.3"/>
<rect x="1145.8" y="682.74" width="15.3" height="8.75" fill="#f25a17"/>
<rect x="1145.8" y="691.49" width="15.3" height="10.03" fill="#f35511" fill-opacity="0.3"/>
<rect x="1145.8" y="692.77" width="15.3" height="8.75" fill="#f35511"/>
<rect x="1145.8" y="701.52" width="15.3" height="10.03" fill="#f5500a" fill-opacity="0.3"/>
<rect x="1145.8" y="702.80" width="15.3" height="8.75" fill="#f5500a"/>
<rect x="1145.8" y="711.55" width="15.3" height="10.03" fill="#f04e0c" fill-opacity="0.3"/>
<rect x="1145.8" y="712.83" width="15.3" height="8.75" fill="#f04e0c"/>
<rect x="1145.8" y="721.58" width="15.3" height="10.03" fill="#eb4d0f" fill-opacity="0.3"/>
<rect x="1145.8" y="722.86" width="15.3" height="8.75" fill="#eb4d0f"/>
<rect x="1145.8" y="731.61" width="15.3" height="10.03" fill="#e64b12" fill-opacity="0.3"/>
<rect x="1145.8" y="732.89" width="15.3" height="8.75" fill="#e64b12"/>
<rect x="1145.8" y="741.64" width="15.3" height="10.03" fill="#e14914" fill-opacity="0.3"/>
<rect x="1145.8" y="742.92" width="15.3" height="8.75" fill="#e14914"/>
<rect x="1145.8" y="751.67" width="15.3" height="10.03" fill="#dc4817" fill-opacity="0.3"/>
<rect x="1145.8" y="752.95" width="15.3" height="8.75" fill="#dc4817"/>
<rect x="1145.8" y="761.70" width="15.3" height="10.03" fill="#d74619" fill-opacity="0.3"/>
<rect x="1145.8" y="762.98" width="15.3" height="8.75" fill="#d74619"/>
<rect x="1145.8" y="771.73" width="15.3" height="10.03" fill="#d1441c" fill-opacity="0.3"/>
<rect x="1145.8" y="773.01" width="15.3" height="8.75" fill="#d1441c"/>
<rect x="1145.8" y="781.76" width="15.3" height="10.03" fill="#cb411e" fill-opacity="0.3"/>
<rect x="1145.8" y="783.04" width="15.3" height="8.75" fill="#cb411e"/>
<rect x="1145.8" y="791.79" width="15.3" height="10.03" fill="#c63e20" fill-opacity="0.3"/>
<rect x="1145.8" y="793.07" width="15.3" height="8.75" fill="#c63e20"/>
<rect x="1145.8" y="801.82" width="15.3" height="10.03" fill="#c03c23" fill-opacity="0.3"/>
<rect x="1145.8" y="803.10" width="15.3" height="8.75" fill="#c03c23"/>
<rect x="1145.8" y="811.85" width="15.3" height="10.03" fill="#ba3a26" fill-opacity="0.3"/>
<rect x="1145.8" y="813.13" width="15.3" height="8.75" fill="#ba3a26"/>
<rect x="1145.8" y="821.88" width="15.3" height="10.03" fill="#b43728" fill-opacity="0.3"/>
<rect x="1145.8" y="823.16" width="15.3" height="8.75" fill="#b43728"/>
<rect x="1145.8" y="831.91" width="15.3" height="10.03" fill="#ac3529" fill-opacity="0.3"/>
<rect x="1145.8" y="833.19" width="15.3" height="8.75" fill="#ac3529"/>
<rect x="1145.8" y="841.94" width="15.3" height="10.03" fill="#a4332a" fill-opacity="0.3"/>
<rect x="1145.8" y="843.22" width="15.3" height="8.75" fill="#a4332a"/>
<rect x="1145.8" y="851.97" width="15.3" height="10.03" fill="#9c312b" fill-opacity="0.3"/>
<rect x="1145.8" y="853.25" width="15.3" height="8.75" fill="#9c312b"/>
<rect x="1145.8" y="862.00" width="15.3" height="10.03" fill="#942f2c" fill-opacity="0.3"/>
<rect x="1145.8" y="863.28" width="15.3" height="8.75" fill="#942f2c"/>
<rect x="1145.8" y="872.03" width="15.3" height="10.03" fill="#8c2d2d" fill-opacity="0.3"/>
<rect x="1145.8" y="873.31" width="15.3" height="8.75" fill="#8c2d2d"/>
<g font-family="Liberation Sans, sans-serif" font-size="13" fill="#000">
<text x="1166" y="113.8">322</text>
<text x="1166" y="123.8">316</text>
<text x="1166" y="133.9">310</text>
<text x="1166" y="143.9">304</text>
<text x="1166" y="154.0">298</text>
<text x="1166" y="164.1">292</text>
<text x="1166" y="174.1">286</text>
<text x="1166" y="184.2">280</text>
<text x="1166" y="194.2">274</text>
<text x="1166" y="204.2">268</text>
<text x="1166" y="214.3">262</text>
<text x="1166" y="224.4">256</text>
<text x="1166" y="234.4">250</text>
<text x="1166" y="244.4">244</text>
<text x="1166" y="254.5">238</text>
<text x="1166" y="264.6">232</text>
<text x="1166" y="274.6">226</text>
<text x="1166" y="284.7">220</text>
<text x="1166" y="294.7">214</text>
<text x="1166" y="304.8">208</text>
<text x="1166" y="314.8">202</text>
<text x="1166" y="324.9">196</text>
<text x="1166" y="334.9">190</text>
<text x="1166" y="344.9">184</text>
<text x="1166" y="355.0">178</text>
<text x="1166" y="365.1">172</text>
<text x="1166" y="375.1">166</text>
<text x="1166" y="385.2">160</text>
<text x="1166" y="395.2">154</text>
<text x="1166" y="405.3">148</text>
<text x="1166" y="415.3">142</text>
<text x="1166" y="425.4">136</text>
<text x="1166" y="435.4">130</text>
<text x="1166" y="445.5">124</text>
<text x="1166" y="455.5">118</text>
<text x="1166" y="465.6">112</text>
<text x="1166" y="475.6">106</text>
<text x="1166" y="485.7">100</text>
<text x="1166" y="495.7">90</text>
<text x="1166" y="505.8">87</text>
<text x="1166" y="515.8">84</text>
<text x="1166" y="525.9">81</text>
<text x="1166" y="535.9">78</text>
<text x="1166" y="546.0">75</text>
<text x="1166" y="556.0">72</text>
<text x="1166" y="566.1">69</text>
<text x="1166" y="576.1">66</text>
<text x="1166" y="586.1">63</text>
<text x="1166" y="596.2">60</text>
<text x="1166" y="606.2">58</text>
<text x="1166" y="616.3">56</text>
<text x="1166" y="626.4">54</text>
<text x="1166" y="636.4">52</text>
<text x="1166" y="646.5">50</text>
<text x="1166" y="656.5">48</text>
<text x="1166" y="666.5">46</text>
<text x="1166" y="676.6">44</text>
<text x="1166" y="686.6">42</text>
<text x="1166" y="696.7">40</text>
<text x="1166" y="706.8">38</text>
<text x="1166" y="716.8">36</text>
<text x="1166" y="726.9">34</text>
<text x="1166" y="736.9">32</text>
<text x="1166" y="747.0">30</text>
<text x="1166" y="757.0">28</text>
<text x="1166" y="767.0">26</text>
<text x="1166" y="777.1">24</text>
<text x="1166" y="787.1">22</text>
<text x="1166" y="797.2">20</text>
<text x="1166" y="807.2">18</text>
<text x="1166" y="817.3">16</text>
<text x="1166" y="827.4">14</text>
<text x="1166" y="837.4">12</text>
<text x="1166" y="847.5">10</text>
<text x="1166" y="857.5">8</text>
<text x="1166" y="867.5">6</text>
<text x="1166" y="877.6">4</text>
<text x="1166" y="887.6">2</text>
<text x="1166" y="897.7">0</text>
</g>
<rect x="916.3" y="878.2" width="207.5" height="19.2" fill="#fff" stroke="#b0b0b0" stroke-width="1.5"/>
<g font-family="Liberation Sans, sans-serif">
<text x="930.7" y="893.7" font-size="15.5" textLength="22.6" lengthAdjust="spacing" fill="#10a0f8" >Sis</text>
<path d="M955,884.5 Q962,882.5 971,882 M959.5,884 Q959,890 956.5,893.5 M966,883.5 Q965.5,890 966.5,893" stroke="#2030f0" stroke-width="1.6" fill="none"/>
<rect x="974" y="888.2" width="9" height="1.5" fill="#505050"/>
<text x="991.8" y="893.4" font-size="14.5" textLength="127.0" lengthAdjust="spacing" fill="#555555" >ONAMET/REP.DOM.</text>
</g>
</svg></body></html>
